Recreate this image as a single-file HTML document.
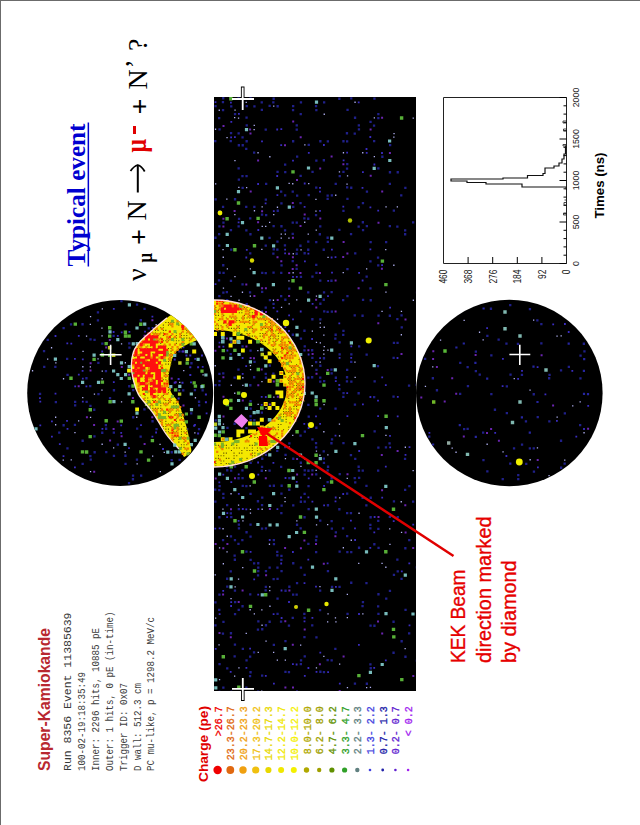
<!DOCTYPE html>
<html><head><meta charset="utf-8"><style>html,body{margin:0;padding:0;background:#fff;width:640px;height:825px;overflow:hidden}svg{display:block}</style></head><body>
<svg width="640" height="825" viewBox="0 0 640 825">
<rect x="0" y="0" width="640" height="825" fill="#fff"/>
<rect x="0" y="0" width="640" height="1" fill="#6b6b6b"/><rect x="0" y="0" width="1" height="825" fill="#6b6b6b"/>
<text transform="translate(85,266.5) rotate(-90)" font-family="Liberation Serif" font-weight="bold" font-size="25" fill="#0000d0" textLength="143" lengthAdjust="spacingAndGlyphs">Typical event</text>
<rect x="87.6" y="122.5" width="1.5" height="144" fill="#0000d0"/>
<text transform="translate(146,281) rotate(-90)" font-family="Liberation Serif" font-weight="normal" font-size="28" fill="#000" >ν</text>
<text transform="translate(151.5,262.5) rotate(-90)" font-family="Liberation Serif" font-weight="bold" font-size="22" fill="#000" textLength="9.5" lengthAdjust="spacingAndGlyphs">μ</text>
<text transform="translate(148.3,245) rotate(-90)" font-family="Liberation Serif" font-weight="bold" font-size="28" fill="#000" >+</text>
<text transform="translate(146,220.5) rotate(-90)" font-family="Liberation Serif" font-weight="normal" font-size="28" fill="#000" >N</text>
<path d="M137.8,192.5 L137.8,166" stroke="#000" stroke-width="2" fill="none"/>
<path d="M130.5,171 Q134,166 137.8,165 Q141.5,166 144.7,171.5" stroke="#000" stroke-width="1.8" fill="none"/>
<text transform="translate(145.5,152.5) rotate(-90)" font-family="Liberation Serif" font-weight="bold" font-size="30" fill="#e00000" textLength="13.5" lengthAdjust="spacingAndGlyphs">μ</text>
<rect x="133" y="126" width="3" height="8" fill="#e00000"/>
<text transform="translate(148.5,114.5) rotate(-90)" font-family="Liberation Serif" font-weight="bold" font-size="28" fill="#000" >+</text>
<text transform="translate(147,89.5) rotate(-90)" font-family="Liberation Serif" font-weight="normal" font-size="28" fill="#000" >N</text>
<text transform="translate(144.3,68.5) rotate(-90)" font-family="Liberation Serif" font-weight="normal" font-size="28" fill="#000" >’</text>
<text transform="translate(147,51) rotate(-90)" font-family="Liberation Serif" font-weight="normal" font-size="28" fill="#000" >?</text>
<text transform="translate(465,663) rotate(-90)" font-family="Liberation Sans" font-weight="normal" font-size="20" fill="#e60000" stroke="#e60000" stroke-width="0.35" textLength="93.5" lengthAdjust="spacingAndGlyphs">KEK Beam</text>
<text transform="translate(491,663) rotate(-90)" font-family="Liberation Sans" font-weight="normal" font-size="20" fill="#e60000" stroke="#e60000" stroke-width="0.35" textLength="146.5" lengthAdjust="spacingAndGlyphs">direction marked</text>
<text transform="translate(516,663) rotate(-90)" font-family="Liberation Sans" font-weight="normal" font-size="20" fill="#e60000" stroke="#e60000" stroke-width="0.35" textLength="102.5" lengthAdjust="spacingAndGlyphs">by diamond</text>
<text transform="translate(49.8,771) rotate(-90)" font-family="Liberation Sans" font-weight="bold" font-size="16.5" fill="#b82830" textLength="143" lengthAdjust="spacingAndGlyphs">Super-Kamiokande</text>
<text transform="translate(70.6,771) rotate(-90)" font-family="Liberation Mono" font-weight="normal" font-size="11" fill="#383838" textLength="158.5" lengthAdjust="spacingAndGlyphs">Run 8356 Event 11385639</text>
<text transform="translate(85.3,771) rotate(-90)" font-family="Liberation Mono" font-weight="normal" font-size="10" fill="#404040" textLength="99.0" lengthAdjust="spacingAndGlyphs">100-02-19:18:35:49</text>
<text transform="translate(99.1,771) rotate(-90)" font-family="Liberation Mono" font-weight="normal" font-size="10" fill="#404040" textLength="143.0" lengthAdjust="spacingAndGlyphs">Inner: 2296 hits, 10885 pE</text>
<text transform="translate(112.9,771) rotate(-90)" font-family="Liberation Mono" font-weight="normal" font-size="10" fill="#404040" textLength="159.5" lengthAdjust="spacingAndGlyphs">Outer: 1 hits, 0 pE (in-time)</text>
<text transform="translate(126.7,771) rotate(-90)" font-family="Liberation Mono" font-weight="normal" font-size="10" fill="#404040" textLength="88.0" lengthAdjust="spacingAndGlyphs">Trigger ID: 0x07</text>
<text transform="translate(140.5,771) rotate(-90)" font-family="Liberation Mono" font-weight="normal" font-size="10" fill="#404040" textLength="88.0" lengthAdjust="spacingAndGlyphs">D wall: 512.3 cm</text>
<text transform="translate(154.3,771) rotate(-90)" font-family="Liberation Mono" font-weight="normal" font-size="10" fill="#404040" textLength="154.0" lengthAdjust="spacingAndGlyphs">PC mu-like, p = 1298.2 MeV/c</text>
<text transform="translate(207.5,782) rotate(-90)" font-family="Liberation Sans" font-weight="bold" font-size="12" fill="#e00000" textLength="76" lengthAdjust="spacingAndGlyphs">Charge (pe)</text>
<text transform="translate(221.6,706.3) rotate(-90)" font-family="Liberation Mono" font-size="10" fill="#f00000" stroke="#f00000" stroke-width="0.3" text-anchor="end" style="white-space:pre" textLength="30.0" lengthAdjust="spacingAndGlyphs">&gt;26.7</text>
<circle cx="217.6" cy="770" r="4.2" fill="#f00000"/>
<text transform="translate(234.3,706.3) rotate(-90)" font-family="Liberation Mono" font-size="10" fill="#e06810" stroke="#e06810" stroke-width="0.3" text-anchor="end" style="white-space:pre" textLength="54.0" lengthAdjust="spacingAndGlyphs">23.3-26.7</text>
<circle cx="230.3" cy="770" r="3.9" fill="#e06810"/>
<text transform="translate(247.0,706.3) rotate(-90)" font-family="Liberation Mono" font-size="10" fill="#f0a010" stroke="#f0a010" stroke-width="0.3" text-anchor="end" style="white-space:pre" textLength="54.0" lengthAdjust="spacingAndGlyphs">20.2-23.3</text>
<circle cx="243.0" cy="770" r="3.7" fill="#f0a010"/>
<text transform="translate(259.7,706.3) rotate(-90)" font-family="Liberation Mono" font-size="10" fill="#f0c010" stroke="#f0c010" stroke-width="0.3" text-anchor="end" style="white-space:pre" textLength="54.0" lengthAdjust="spacingAndGlyphs">17.3-20.2</text>
<circle cx="255.7" cy="770" r="3.6" fill="#f0c010"/>
<text transform="translate(272.4,706.3) rotate(-90)" font-family="Liberation Mono" font-size="10" fill="#e8d800" stroke="#e8d800" stroke-width="0.3" text-anchor="end" style="white-space:pre" textLength="54.0" lengthAdjust="spacingAndGlyphs">14.7-17.3</text>
<circle cx="268.4" cy="770" r="3.1" fill="#e8d800"/>
<text transform="translate(285.1,706.3) rotate(-90)" font-family="Liberation Mono" font-size="10" fill="#f0e800" stroke="#f0e800" stroke-width="0.3" text-anchor="end" style="white-space:pre" textLength="54.0" lengthAdjust="spacingAndGlyphs">12.2-14.7</text>
<circle cx="281.1" cy="770" r="3.0" fill="#f0e800"/>
<text transform="translate(297.8,706.3) rotate(-90)" font-family="Liberation Mono" font-size="10" fill="#f4f000" stroke="#f4f000" stroke-width="0.3" text-anchor="end" style="white-space:pre" textLength="54.0" lengthAdjust="spacingAndGlyphs">10.0-12.2</text>
<circle cx="293.8" cy="770" r="3.0" fill="#f4f000"/>
<text transform="translate(310.5,706.3) rotate(-90)" font-family="Liberation Mono" font-size="10" fill="#b0a800" stroke="#b0a800" stroke-width="0.3" text-anchor="end" style="white-space:pre" textLength="54.0" lengthAdjust="spacingAndGlyphs"> 8.0-10.0</text>
<circle cx="306.5" cy="770" r="2.7" fill="#b0a800"/>
<text transform="translate(323.2,706.3) rotate(-90)" font-family="Liberation Mono" font-size="10" fill="#a0a000" stroke="#a0a000" stroke-width="0.3" text-anchor="end" style="white-space:pre" textLength="54.0" lengthAdjust="spacingAndGlyphs"> 6.2- 8.0</text>
<circle cx="319.2" cy="770" r="2.2" fill="#a0a000"/>
<text transform="translate(335.9,706.3) rotate(-90)" font-family="Liberation Mono" font-size="10" fill="#609000" stroke="#609000" stroke-width="0.3" text-anchor="end" style="white-space:pre" textLength="54.0" lengthAdjust="spacingAndGlyphs"> 4.7- 6.2</text>
<circle cx="331.9" cy="770" r="2.6" fill="#609000"/>
<text transform="translate(348.6,706.3) rotate(-90)" font-family="Liberation Mono" font-size="10" fill="#30a028" stroke="#30a028" stroke-width="0.3" text-anchor="end" style="white-space:pre" textLength="54.0" lengthAdjust="spacingAndGlyphs"> 3.3- 4.7</text>
<circle cx="344.6" cy="770" r="2.6" fill="#30a028"/>
<text transform="translate(361.3,706.3) rotate(-90)" font-family="Liberation Mono" font-size="10" fill="#608080" stroke="#608080" stroke-width="0.3" text-anchor="end" style="white-space:pre" textLength="54.0" lengthAdjust="spacingAndGlyphs"> 2.2- 3.3</text>
<circle cx="357.3" cy="770" r="2.2" fill="#608080"/>
<text transform="translate(374.0,706.3) rotate(-90)" font-family="Liberation Mono" font-size="10" fill="#4040e0" stroke="#4040e0" stroke-width="0.3" text-anchor="end" style="white-space:pre" textLength="54.0" lengthAdjust="spacingAndGlyphs"> 1.3- 2.2</text>
<circle cx="370.0" cy="770" r="1.3" fill="#4040e0"/>
<text transform="translate(386.7,706.3) rotate(-90)" font-family="Liberation Mono" font-size="10" fill="#2020a8" stroke="#2020a8" stroke-width="0.3" text-anchor="end" style="white-space:pre" textLength="54.0" lengthAdjust="spacingAndGlyphs"> 0.7- 1.3</text>
<circle cx="382.7" cy="770" r="1.4" fill="#2020a8"/>
<text transform="translate(399.4,706.3) rotate(-90)" font-family="Liberation Mono" font-size="10" fill="#6020d0" stroke="#6020d0" stroke-width="0.3" text-anchor="end" style="white-space:pre" textLength="54.0" lengthAdjust="spacingAndGlyphs"> 0.2- 0.7</text>
<circle cx="395.4" cy="770" r="1.3" fill="#6020d0"/>
<text transform="translate(412.1,706.3) rotate(-90)" font-family="Liberation Mono" font-size="10" fill="#a020f0" stroke="#a020f0" stroke-width="0.3" text-anchor="end" style="white-space:pre" textLength="30.0" lengthAdjust="spacingAndGlyphs">&lt; 0.2</text>
<circle cx="408.1" cy="770" r="1.3" fill="#a020f0"/>
<g stroke="#000" stroke-width="1" fill="none">
<path d="M443.5,263.5 L443.5,97.5 L566.5,97.5 L566.5,263.5 Z" stroke="#222"/>
<path d="M566.5,263.5 L559.5,263.5"/>
<path d="M566.5,255.2 L563.5,255.2"/>
<path d="M566.5,246.9 L563.5,246.9"/>
<path d="M566.5,238.6 L563.5,238.6"/>
<path d="M566.5,230.3 L563.5,230.3"/>
<path d="M566.5,222.0 L559.5,222.0"/>
<path d="M566.5,213.7 L563.5,213.7"/>
<path d="M566.5,205.4 L563.5,205.4"/>
<path d="M566.5,197.1 L563.5,197.1"/>
<path d="M566.5,188.8 L563.5,188.8"/>
<path d="M566.5,180.5 L559.5,180.5"/>
<path d="M566.5,172.2 L563.5,172.2"/>
<path d="M566.5,163.9 L563.5,163.9"/>
<path d="M566.5,155.6 L563.5,155.6"/>
<path d="M566.5,147.3 L563.5,147.3"/>
<path d="M566.5,139.0 L559.5,139.0"/>
<path d="M566.5,130.7 L563.5,130.7"/>
<path d="M566.5,122.4 L563.5,122.4"/>
<path d="M566.5,114.1 L563.5,114.1"/>
<path d="M566.5,105.8 L563.5,105.8"/>
<path d="M566.5,97.5 L559.5,97.5"/>
<path d="M468.1,263.5 L468.1,257"/>
<path d="M492.7,263.5 L492.7,257"/>
<path d="M517.3,263.5 L517.3,257"/>
<path d="M541.9,263.5 L541.9,257"/>
</g>
<text transform="translate(579,263.5) rotate(-90)" font-family="Liberation Sans" font-size="9.8" fill="#202020" text-anchor="middle" textLength="4.9" lengthAdjust="spacingAndGlyphs">0</text>
<text transform="translate(579,222) rotate(-90)" font-family="Liberation Sans" font-size="9.8" fill="#202020" text-anchor="middle" textLength="14.7" lengthAdjust="spacingAndGlyphs">500</text>
<text transform="translate(579,180.5) rotate(-90)" font-family="Liberation Sans" font-size="9.8" fill="#202020" text-anchor="middle" textLength="19.6" lengthAdjust="spacingAndGlyphs">1000</text>
<text transform="translate(579,139) rotate(-90)" font-family="Liberation Sans" font-size="9.8" fill="#202020" text-anchor="middle" textLength="19.6" lengthAdjust="spacingAndGlyphs">1500</text>
<text transform="translate(579,97.5) rotate(-90)" font-family="Liberation Sans" font-size="9.8" fill="#202020" text-anchor="middle" textLength="19.6" lengthAdjust="spacingAndGlyphs">2000</text>
<text transform="translate(447.3,269.5) rotate(-90)" font-family="Liberation Sans" font-size="10" fill="#202020" text-anchor="end" textLength="14.1" lengthAdjust="spacingAndGlyphs">460</text>
<text transform="translate(471.9,269.5) rotate(-90)" font-family="Liberation Sans" font-size="10" fill="#202020" text-anchor="end" textLength="14.1" lengthAdjust="spacingAndGlyphs">368</text>
<text transform="translate(496.5,269.5) rotate(-90)" font-family="Liberation Sans" font-size="10" fill="#202020" text-anchor="end" textLength="14.1" lengthAdjust="spacingAndGlyphs">276</text>
<text transform="translate(521.1,269.5) rotate(-90)" font-family="Liberation Sans" font-size="10" fill="#202020" text-anchor="end" textLength="14.1" lengthAdjust="spacingAndGlyphs">184</text>
<text transform="translate(545.7,269.5) rotate(-90)" font-family="Liberation Sans" font-size="10" fill="#202020" text-anchor="end" textLength="9.4" lengthAdjust="spacingAndGlyphs">92</text>
<text transform="translate(570.3,269.5) rotate(-90)" font-family="Liberation Sans" font-size="10" fill="#202020" text-anchor="end" textLength="4.7" lengthAdjust="spacingAndGlyphs">0</text>
<text transform="translate(603.8,218.5) rotate(-90)" font-family="Liberation Sans" font-weight="bold" font-size="13.5" fill="#000" textLength="66" lengthAdjust="spacingAndGlyphs">Times (ns)</text>
<path d="M566.5,190 L566,187 L522,187 L522,184 L486,184 L486,182.5 L467,182.5 L467,181 L451,181 L451,179 L503,179 L503,178 L527.5,178 L527.5,175.5 L543,175.5 L543,173.5 L545,173.5 L545,168 L554,168 L554,166 L559,166 L559,163 L562,163 L562,159 L564,159 L564,154 L565.5,154 L565.5,146 L566.5,146" stroke="#111" stroke-width="1.2" fill="none"/>
<path d="M566,215 h-2.5 v-2 h2.5 M566,205 h-2 v-2.5 h2 M566,200 h-1.5 M566,123 h-3 v-2 h3 M566,131 h-2.5 v-2 h2.5 M566,146 h-3 v-1.5 h3" stroke="#333" stroke-width="0.9" fill="none"/>
<defs>
<clipPath id="cR"><rect x="214" y="97" width="202" height="594"/></clipPath>
<clipPath id="cL"><circle cx="120.2" cy="393" r="93"/></clipPath>
<clipPath id="cRt"><circle cx="509.3" cy="393" r="93.3"/></clipPath>
<filter id="bl" x="-5%" y="-5%" width="110%" height="110%"><feGaussianBlur stdDeviation="0.8"/></filter>
</defs>
<rect x="214" y="97" width="202" height="594" fill="#000"/>
<circle cx="120.2" cy="393" r="93" fill="#000"/>
<circle cx="509.3" cy="393" r="93.3" fill="#000"/>
<g clip-path="url(#cR)">
<path fill="#20208a"  d="M222.1 97.1h2.3v2.3h-2.3zM237.4 97.3h2.3v2.3h-2.3zM249.4 97.2h2.3v2.3h-2.3zM272.5 97.6h2.3v2.3h-2.3zM338.2 97.6h2.3v2.3h-2.3zM350.1 97.2h2.3v2.3h-2.3zM373.3 97.4h2.3v2.3h-2.3zM221.8 101h2.3v2.3h-2.3zM260.6 101.3h2.3v2.3h-2.3zM272.2 101.2h2.3v2.3h-2.3zM299.8 101.3h2.3v2.3h-2.3zM323 101.2h2.3v2.3h-2.3zM214.4 105h2.3v2.3h-2.3zM230.1 105.3h2.3v2.3h-2.3zM245.6 105h2.3v2.3h-2.3zM253.3 105.3h2.3v2.3h-2.3zM268.5 104.8h2.3v2.3h-2.3zM276.5 105.1h2.3v2.3h-2.3zM292 104.9h2.3v2.3h-2.3zM314.9 105h2.3v2.3h-2.3zM221.9 108.9h2.3v2.3h-2.3zM260.7 108.7h2.3v2.3h-2.3zM291.9 108.9h2.3v2.3h-2.3zM315.2 109h2.3v2.3h-2.3zM346.4 108.7h2.3v2.3h-2.3zM233.9 112.9h2.3v2.3h-2.3zM299.6 112.9h2.3v2.3h-2.3zM377.2 113h2.3v2.3h-2.3zM218 116.9h2.3v2.3h-2.3zM245.4 116.5h2.3v2.3h-2.3zM353.9 116.6h2.3v2.3h-2.3zM377.2 117h2.3v2.3h-2.3zM369.4 120.8h2.3v2.3h-2.3zM245.6 124.3h2.3v2.3h-2.3zM295.6 124.3h2.3v2.3h-2.3zM357.7 124.3h2.3v2.3h-2.3zM372.9 124.5h2.3v2.3h-2.3zM218.4 128.2h2.3v2.3h-2.3zM264.6 128.5h2.3v2.3h-2.3zM295.6 128.5h2.3v2.3h-2.3zM357.8 128.2h2.3v2.3h-2.3zM229.9 132h2.3v2.3h-2.3zM237.5 132.3h2.3v2.3h-2.3zM345.8 132.1h2.3v2.3h-2.3zM353.6 132.5h2.3v2.3h-2.3zM241.4 136.2h2.3v2.3h-2.3zM214.1 140h2.3v2.3h-2.3zM229.6 140h2.3v2.3h-2.3zM245.5 140.1h2.3v2.3h-2.3zM292 140.1h2.3v2.3h-2.3zM319.2 140.1h2.3v2.3h-2.3zM326.7 140.2h2.3v2.3h-2.3zM342.3 140.1h2.3v2.3h-2.3zM346 140.2h2.3v2.3h-2.3zM373 139.9h2.3v2.3h-2.3zM237.7 144.1h2.3v2.3h-2.3zM241.6 144.1h2.3v2.3h-2.3zM307.6 143.7h2.3v2.3h-2.3zM389 143.9h2.3v2.3h-2.3zM245.1 147.7h2.3v2.3h-2.3zM253 151.5h2.3v2.3h-2.3zM296 155.5h2.3v2.3h-2.3zM381.2 155.6h2.3v2.3h-2.3zM315.2 159.4h2.3v2.3h-2.3zM322.7 159.1h2.3v2.3h-2.3zM284 163.5h2.3v2.3h-2.3zM346.1 163h2.3v2.3h-2.3zM237.5 167.2h2.3v2.3h-2.3zM345.9 167.4h2.3v2.3h-2.3zM377.2 167.2h2.3v2.3h-2.3zM276.4 170.7h2.3v2.3h-2.3zM284.1 171h2.3v2.3h-2.3zM311.4 170.8h2.3v2.3h-2.3zM342.3 170.8h2.3v2.3h-2.3zM388.8 171.1h2.3v2.3h-2.3zM396.6 171.1h2.3v2.3h-2.3zM241.3 174.9h2.3v2.3h-2.3zM245.4 174.9h2.3v2.3h-2.3zM299.5 174.8h2.3v2.3h-2.3zM338.6 174.9h2.3v2.3h-2.3zM237.7 178.5h2.3v2.3h-2.3zM265 182.8h2.3v2.3h-2.3zM334.6 182.8h2.3v2.3h-2.3zM388.7 182.8h2.3v2.3h-2.3zM241.5 186.7h2.3v2.3h-2.3zM315.1 186.5h2.3v2.3h-2.3zM346 186.3h2.3v2.3h-2.3zM350.1 186.6h2.3v2.3h-2.3zM404.2 186.8h2.3v2.3h-2.3zM280 190.5h2.3v2.3h-2.3zM291.6 190.4h2.3v2.3h-2.3zM365.8 190.4h2.3v2.3h-2.3zM284 194.3h2.3v2.3h-2.3zM296 194.4h2.3v2.3h-2.3zM307.6 194h2.3v2.3h-2.3zM326.5 194.5h2.3v2.3h-2.3zM330.7 194.2h2.3v2.3h-2.3zM400.1 194.2h2.3v2.3h-2.3zM214.5 198.2h2.3v2.3h-2.3zM233.9 198.1h2.3v2.3h-2.3zM264.7 198.4h2.3v2.3h-2.3zM326.5 197.8h2.3v2.3h-2.3zM346.3 197.8h2.3v2.3h-2.3zM280.3 202.2h2.3v2.3h-2.3zM299.4 201.9h2.3v2.3h-2.3zM361.8 202h2.3v2.3h-2.3zM221.9 205.8h2.3v2.3h-2.3zM245.1 205.8h2.3v2.3h-2.3zM253.2 205.7h2.3v2.3h-2.3zM292.1 205.8h2.3v2.3h-2.3zM357.5 206.1h2.3v2.3h-2.3zM218.5 210h2.3v2.3h-2.3zM276.6 209.6h2.3v2.3h-2.3zM342.3 209.7h2.3v2.3h-2.3zM392.7 209.5h2.3v2.3h-2.3zM260.9 213.4h2.3v2.3h-2.3zM265 213.9h2.3v2.3h-2.3zM314.9 213.9h2.3v2.3h-2.3zM237.9 217.7h2.3v2.3h-2.3zM249.1 217.3h2.3v2.3h-2.3zM303.2 217.3h2.3v2.3h-2.3zM307.1 217.6h2.3v2.3h-2.3zM416 217.6h2.3v2.3h-2.3zM222.3 221.5h2.3v2.3h-2.3zM291.6 221.4h2.3v2.3h-2.3zM295.6 221.4h2.3v2.3h-2.3zM361.7 221.1h2.3v2.3h-2.3zM412 221.3h2.3v2.3h-2.3zM218.3 225.3h2.3v2.3h-2.3zM237.5 225.3h2.3v2.3h-2.3zM272.5 225h2.3v2.3h-2.3zM280.3 225.1h2.3v2.3h-2.3zM319.1 225.3h2.3v2.3h-2.3zM357.5 225.4h2.3v2.3h-2.3zM365.7 224.9h2.3v2.3h-2.3zM388.7 225h2.3v2.3h-2.3zM396.2 225.4h2.3v2.3h-2.3zM229.8 228.9h2.3v2.3h-2.3zM245.2 229.3h2.3v2.3h-2.3zM283.9 229.2h2.3v2.3h-2.3zM338.2 228.8h2.3v2.3h-2.3zM361.9 228.9h2.3v2.3h-2.3zM404 229.2h2.3v2.3h-2.3zM218 232.9h2.3v2.3h-2.3zM249.3 233.1h2.3v2.3h-2.3zM291.6 232.7h2.3v2.3h-2.3zM318.7 233.1h2.3v2.3h-2.3zM349.9 233h2.3v2.3h-2.3zM404 233.1h2.3v2.3h-2.3zM214.3 236.6h2.3v2.3h-2.3zM268.4 236.7h2.3v2.3h-2.3zM326.5 236.6h2.3v2.3h-2.3zM276.3 240.5h2.3v2.3h-2.3zM307.1 240.5h2.3v2.3h-2.3zM315.1 240.9h2.3v2.3h-2.3zM326.7 240.7h2.3v2.3h-2.3zM369.5 240.9h2.3v2.3h-2.3zM385 240.9h2.3v2.3h-2.3zM218 244.5h2.3v2.3h-2.3zM264.6 244.4h2.3v2.3h-2.3zM283.8 244.3h2.3v2.3h-2.3zM299.3 244.6h2.3v2.3h-2.3zM230.1 248.4h2.3v2.3h-2.3zM272.6 248.3h2.3v2.3h-2.3zM276.2 248.5h2.3v2.3h-2.3zM295.9 248.5h2.3v2.3h-2.3zM307.1 248.6h2.3v2.3h-2.3zM322.6 248.6h2.3v2.3h-2.3zM249.1 252.2h2.3v2.3h-2.3zM272.2 252.5h2.3v2.3h-2.3zM295.5 252.6h2.3v2.3h-2.3zM303.5 252.1h2.3v2.3h-2.3zM354.1 252.2h2.3v2.3h-2.3zM376.9 256.5h2.3v2.3h-2.3zM291.6 260h2.3v2.3h-2.3zM369.3 260.2h2.3v2.3h-2.3zM222.1 264.1h2.3v2.3h-2.3zM280.4 264.2h2.3v2.3h-2.3zM315.1 263.7h2.3v2.3h-2.3zM377.1 264.2h2.3v2.3h-2.3zM295.5 267.7h2.3v2.3h-2.3zM346.3 268h2.3v2.3h-2.3zM218.5 271.6h2.3v2.3h-2.3zM222.4 271.8h2.3v2.3h-2.3zM261.1 271.7h2.3v2.3h-2.3zM264.6 272h2.3v2.3h-2.3zM272.4 271.5h2.3v2.3h-2.3zM280.1 271.8h2.3v2.3h-2.3zM315.3 271.8h2.3v2.3h-2.3zM299.8 275.7h2.3v2.3h-2.3zM311.3 275.4h2.3v2.3h-2.3zM365.5 275.5h2.3v2.3h-2.3zM217.9 279.2h2.3v2.3h-2.3zM229.8 279.7h2.3v2.3h-2.3zM319.1 279.4h2.3v2.3h-2.3zM330.3 279.6h2.3v2.3h-2.3zM241.4 283.3h2.3v2.3h-2.3zM288.1 287.5h2.3v2.3h-2.3zM369.3 287.2h2.3v2.3h-2.3zM222.2 291.4h2.3v2.3h-2.3zM225.7 291h2.3v2.3h-2.3zM248.9 291.2h2.3v2.3h-2.3zM261 290.8h2.3v2.3h-2.3zM307.1 291.3h2.3v2.3h-2.3zM322.9 291.2h2.3v2.3h-2.3zM330.5 290.9h2.3v2.3h-2.3zM218.2 295h2.3v2.3h-2.3zM280 295h2.3v2.3h-2.3zM346.3 294.9h2.3v2.3h-2.3zM226 298.9h2.3v2.3h-2.3zM268.8 299h2.3v2.3h-2.3zM284.2 298.6h2.3v2.3h-2.3zM322.6 298.6h2.3v2.3h-2.3zM342 299h2.3v2.3h-2.3zM361.9 298.7h2.3v2.3h-2.3zM369.6 299.1h2.3v2.3h-2.3zM245.6 302.9h2.3v2.3h-2.3zM272.4 302.7h2.3v2.3h-2.3zM319.2 302.6h2.3v2.3h-2.3zM264.6 306.4h2.3v2.3h-2.3zM323.1 310.2h2.3v2.3h-2.3zM326.5 310.7h2.3v2.3h-2.3zM330.7 310.4h2.3v2.3h-2.3zM353.6 314.2h2.3v2.3h-2.3zM361.4 314.6h2.3v2.3h-2.3zM377.4 314.4h2.3v2.3h-2.3zM388.7 314.6h2.3v2.3h-2.3zM400.4 314.2h2.3v2.3h-2.3zM311.2 318.1h2.3v2.3h-2.3zM319.2 318.3h2.3v2.3h-2.3zM396.2 318h2.3v2.3h-2.3zM400.6 326.2h2.3v2.3h-2.3zM283.9 330.1h2.3v2.3h-2.3zM303.3 329.6h2.3v2.3h-2.3zM342.3 329.8h2.3v2.3h-2.3zM291.7 333.6h2.3v2.3h-2.3zM334.5 333.6h2.3v2.3h-2.3zM342.1 333.7h2.3v2.3h-2.3zM299.8 337.4h2.3v2.3h-2.3zM334.2 337.5h2.3v2.3h-2.3zM369.2 337.7h2.3v2.3h-2.3zM416 337.6h2.3v2.3h-2.3zM230.1 341.3h2.3v2.3h-2.3zM338.5 341.2h2.3v2.3h-2.3zM392.8 341.7h2.3v2.3h-2.3zM396.4 341.8h2.3v2.3h-2.3zM241.4 345.2h2.3v2.3h-2.3zM303.6 345.2h2.3v2.3h-2.3zM358 345.2h2.3v2.3h-2.3zM249.4 349.4h2.3v2.3h-2.3zM303.3 349.2h2.3v2.3h-2.3zM311 349.1h2.3v2.3h-2.3zM229.6 353h2.3v2.3h-2.3zM338.5 353.2h2.3v2.3h-2.3zM350.2 353.3h2.3v2.3h-2.3zM365.5 353.4h2.3v2.3h-2.3zM311.2 356.8h2.3v2.3h-2.3zM322.8 357.1h2.3v2.3h-2.3zM392.5 356.8h2.3v2.3h-2.3zM253.4 360.8h2.3v2.3h-2.3zM315 361h2.3v2.3h-2.3zM350.1 360.8h2.3v2.3h-2.3zM268.7 364.5h2.3v2.3h-2.3zM319.2 364.6h2.3v2.3h-2.3zM376.8 364.9h2.3v2.3h-2.3zM237.3 368.4h2.3v2.3h-2.3zM315.3 368.8h2.3v2.3h-2.3zM330.3 368.4h2.3v2.3h-2.3zM346 368.8h2.3v2.3h-2.3zM218.3 372.7h2.3v2.3h-2.3zM222.1 372.2h2.3v2.3h-2.3zM264.6 372.7h2.3v2.3h-2.3zM272.2 372.5h2.3v2.3h-2.3zM330.5 372.2h2.3v2.3h-2.3zM233.5 376.5h2.3v2.3h-2.3zM253 376.1h2.3v2.3h-2.3zM264.8 376.6h2.3v2.3h-2.3zM272.7 376.5h2.3v2.3h-2.3zM307.2 376.5h2.3v2.3h-2.3zM311 376.1h2.3v2.3h-2.3zM319.1 376.4h2.3v2.3h-2.3zM334.7 376.6h2.3v2.3h-2.3zM345.9 376.1h2.3v2.3h-2.3zM218.4 379.9h2.3v2.3h-2.3zM319.1 380.5h2.3v2.3h-2.3zM323 380h2.3v2.3h-2.3zM345.8 380.2h2.3v2.3h-2.3zM350.2 380.4h2.3v2.3h-2.3zM373.5 380.3h2.3v2.3h-2.3zM214.3 384h2.3v2.3h-2.3zM218.2 383.9h2.3v2.3h-2.3zM249.2 384.1h2.3v2.3h-2.3zM407.9 384.4h2.3v2.3h-2.3zM415.6 383.8h2.3v2.3h-2.3zM338.2 388.1h2.3v2.3h-2.3zM342.4 391.9h2.3v2.3h-2.3zM357.5 392.1h2.3v2.3h-2.3zM342.2 395.8h2.3v2.3h-2.3zM373 395.9h2.3v2.3h-2.3zM392.4 395.5h2.3v2.3h-2.3zM249.4 399.9h2.3v2.3h-2.3zM307.2 403.7h2.3v2.3h-2.3zM353.8 403.5h2.3v2.3h-2.3zM249.5 407.5h2.3v2.3h-2.3zM319.1 407.5h2.3v2.3h-2.3zM334.4 407.5h2.3v2.3h-2.3zM260.7 411.4h2.3v2.3h-2.3zM249.4 415.1h2.3v2.3h-2.3zM307.6 415.4h2.3v2.3h-2.3zM214.6 419.3h2.3v2.3h-2.3zM249.5 418.9h2.3v2.3h-2.3zM253.2 419.1h2.3v2.3h-2.3zM233.5 422.6h2.3v2.3h-2.3zM307.4 423.1h2.3v2.3h-2.3zM226.3 426.8h2.3v2.3h-2.3zM245.3 426.9h2.3v2.3h-2.3zM315.2 426.6h2.3v2.3h-2.3zM303.7 430.5h2.3v2.3h-2.3zM373.5 430.3h2.3v2.3h-2.3zM299.4 434.5h2.3v2.3h-2.3zM311.3 438.3h2.3v2.3h-2.3zM330.9 438.3h2.3v2.3h-2.3zM288.2 442.3h2.3v2.3h-2.3zM314.9 441.9h2.3v2.3h-2.3zM330.3 442.1h2.3v2.3h-2.3zM342.3 442h2.3v2.3h-2.3zM388.4 442.3h2.3v2.3h-2.3zM284.1 445.9h2.3v2.3h-2.3zM315 446.3h2.3v2.3h-2.3zM377.2 446.4h2.3v2.3h-2.3zM384.8 446.3h2.3v2.3h-2.3zM276.1 449.8h2.3v2.3h-2.3zM322.6 450.3h2.3v2.3h-2.3zM264.8 453.7h2.3v2.3h-2.3zM284.4 453.8h2.3v2.3h-2.3zM349.8 453.9h2.3v2.3h-2.3zM261.1 457.6h2.3v2.3h-2.3zM292.1 457.6h2.3v2.3h-2.3zM322.7 457.5h2.3v2.3h-2.3zM354.1 457.7h2.3v2.3h-2.3zM403.9 457.7h2.3v2.3h-2.3zM249.5 461.8h2.3v2.3h-2.3zM299.7 461.6h2.3v2.3h-2.3zM322.8 461.7h2.3v2.3h-2.3zM225.8 465.5h2.3v2.3h-2.3zM233.9 465.4h2.3v2.3h-2.3zM260.9 465.7h2.3v2.3h-2.3zM280 465.7h2.3v2.3h-2.3zM326.9 465.6h2.3v2.3h-2.3zM357.5 465.6h2.3v2.3h-2.3zM226.1 469.1h2.3v2.3h-2.3zM230 469.5h2.3v2.3h-2.3zM241.3 469.2h2.3v2.3h-2.3zM260.6 469.6h2.3v2.3h-2.3zM268.4 469.5h2.3v2.3h-2.3zM303.6 469.2h2.3v2.3h-2.3zM307.3 469.6h2.3v2.3h-2.3zM311.3 469.3h2.3v2.3h-2.3zM326.5 469.2h2.3v2.3h-2.3zM357.8 469.4h2.3v2.3h-2.3zM361.6 469.4h2.3v2.3h-2.3zM377 469.4h2.3v2.3h-2.3zM415.9 469.3h2.3v2.3h-2.3zM303.5 473.5h2.3v2.3h-2.3zM315.1 473.2h2.3v2.3h-2.3zM338.6 473h2.3v2.3h-2.3zM237.4 477.1h2.3v2.3h-2.3zM241.4 476.9h2.3v2.3h-2.3zM288.2 476.9h2.3v2.3h-2.3zM330.5 477.1h2.3v2.3h-2.3zM353.6 476.9h2.3v2.3h-2.3zM358 476.8h2.3v2.3h-2.3zM326.5 481h2.3v2.3h-2.3zM354.1 481.2h2.3v2.3h-2.3zM218.5 484.9h2.3v2.3h-2.3zM241.6 484.8h2.3v2.3h-2.3zM245.2 485h2.3v2.3h-2.3zM268.8 484.7h2.3v2.3h-2.3zM272.7 484.6h2.3v2.3h-2.3zM280.5 484.6h2.3v2.3h-2.3zM307.4 485h2.3v2.3h-2.3zM365.3 484.7h2.3v2.3h-2.3zM408.2 485h2.3v2.3h-2.3zM214.1 488.5h2.3v2.3h-2.3zM218.1 488.9h2.3v2.3h-2.3zM288.1 488.6h2.3v2.3h-2.3zM404 488.7h2.3v2.3h-2.3zM222.2 492.8h2.3v2.3h-2.3zM249.4 492.7h2.3v2.3h-2.3zM280.3 492.5h2.3v2.3h-2.3zM303.5 492.8h2.3v2.3h-2.3zM346 492.4h2.3v2.3h-2.3zM222.2 496.7h2.3v2.3h-2.3zM261.1 496.4h2.3v2.3h-2.3zM361.5 496.6h2.3v2.3h-2.3zM369.6 496.6h2.3v2.3h-2.3zM214.2 500.5h2.3v2.3h-2.3zM256.8 500.1h2.3v2.3h-2.3zM299.7 500.6h2.3v2.3h-2.3zM303.6 500.4h2.3v2.3h-2.3zM392.8 500.3h2.3v2.3h-2.3zM412 500.4h2.3v2.3h-2.3zM226 504h2.3v2.3h-2.3zM260.9 504h2.3v2.3h-2.3zM280.5 504.5h2.3v2.3h-2.3zM292.1 504.3h2.3v2.3h-2.3zM326.8 504.1h2.3v2.3h-2.3zM365.2 504.3h2.3v2.3h-2.3zM237.7 508h2.3v2.3h-2.3zM307.5 507.9h2.3v2.3h-2.3zM338.2 508.1h2.3v2.3h-2.3zM229.7 512.2h2.3v2.3h-2.3zM280.2 511.9h2.3v2.3h-2.3zM346 511.9h2.3v2.3h-2.3zM349.8 511.9h2.3v2.3h-2.3zM218.2 516.1h2.3v2.3h-2.3zM230.1 515.9h2.3v2.3h-2.3zM303.4 516.1h2.3v2.3h-2.3zM369.5 516.1h2.3v2.3h-2.3zM388.7 515.7h2.3v2.3h-2.3zM396.6 515.9h2.3v2.3h-2.3zM319.1 519.5h2.3v2.3h-2.3zM330.5 519.9h2.3v2.3h-2.3zM377.1 519.8h2.3v2.3h-2.3zM237.7 523.5h2.3v2.3h-2.3zM249.4 523.5h2.3v2.3h-2.3zM295.9 523.6h2.3v2.3h-2.3zM369.2 523.7h2.3v2.3h-2.3zM237.8 527.2h2.3v2.3h-2.3zM260.9 527.5h2.3v2.3h-2.3zM264.8 527.2h2.3v2.3h-2.3zM299.5 527.2h2.3v2.3h-2.3zM330.7 527.4h2.3v2.3h-2.3zM341.9 527.2h2.3v2.3h-2.3zM369.2 527.2h2.3v2.3h-2.3zM377.2 527.7h2.3v2.3h-2.3zM245.4 531.1h2.3v2.3h-2.3zM334.7 531.3h2.3v2.3h-2.3zM229.8 535.2h2.3v2.3h-2.3zM249.4 535.5h2.3v2.3h-2.3zM315.4 535.4h2.3v2.3h-2.3zM346 535h2.3v2.3h-2.3zM221.9 539h2.3v2.3h-2.3zM233.8 538.9h2.3v2.3h-2.3zM241.2 539h2.3v2.3h-2.3zM272.7 538.9h2.3v2.3h-2.3zM314.9 539.1h2.3v2.3h-2.3zM408.1 538.9h2.3v2.3h-2.3zM237.3 542.8h2.3v2.3h-2.3zM272.8 543h2.3v2.3h-2.3zM307.2 542.7h2.3v2.3h-2.3zM373.2 543.1h2.3v2.3h-2.3zM357.9 546.6h2.3v2.3h-2.3zM377.4 546.8h2.3v2.3h-2.3zM404.2 547.1h2.3v2.3h-2.3zM245.3 550.5h2.3v2.3h-2.3zM276.1 550.7h2.3v2.3h-2.3zM315 550.9h2.3v2.3h-2.3zM338.5 550.5h2.3v2.3h-2.3zM346.2 551h2.3v2.3h-2.3zM350.1 550.9h2.3v2.3h-2.3zM233.5 554.4h2.3v2.3h-2.3zM276.2 554.3h2.3v2.3h-2.3zM280.3 554.8h2.3v2.3h-2.3zM233.7 558.6h2.3v2.3h-2.3zM249.5 558.7h2.3v2.3h-2.3zM280.2 558.8h2.3v2.3h-2.3zM396.2 558.4h2.3v2.3h-2.3zM253 562.3h2.3v2.3h-2.3zM257.1 562.1h2.3v2.3h-2.3zM292.1 562.1h2.3v2.3h-2.3zM257.1 566.4h2.3v2.3h-2.3zM268.5 566.5h2.3v2.3h-2.3zM276.3 566.4h2.3v2.3h-2.3zM299.8 566.4h2.3v2.3h-2.3zM415.7 566.3h2.3v2.3h-2.3zM229.6 570.3h2.3v2.3h-2.3zM257.1 570h2.3v2.3h-2.3zM264.8 570h2.3v2.3h-2.3zM280.4 570h2.3v2.3h-2.3zM326.8 570h2.3v2.3h-2.3zM396.6 570.2h2.3v2.3h-2.3zM256.9 574.2h2.3v2.3h-2.3zM303.5 573.7h2.3v2.3h-2.3zM392.8 573.7h2.3v2.3h-2.3zM226 577.6h2.3v2.3h-2.3zM272.5 578h2.3v2.3h-2.3zM276.4 577.8h2.3v2.3h-2.3zM400.4 577.8h2.3v2.3h-2.3zM295.9 582h2.3v2.3h-2.3zM350.1 581.6h2.3v2.3h-2.3zM365.3 582h2.3v2.3h-2.3zM226.1 585.5h2.3v2.3h-2.3zM264.7 585.7h2.3v2.3h-2.3zM288.2 585.6h2.3v2.3h-2.3zM330.9 585.7h2.3v2.3h-2.3zM338.4 585.8h2.3v2.3h-2.3zM233.8 589.4h2.3v2.3h-2.3zM264.5 589.2h2.3v2.3h-2.3zM284.4 589.6h2.3v2.3h-2.3zM319 589.4h2.3v2.3h-2.3zM388.8 589.7h2.3v2.3h-2.3zM218.3 593.5h2.3v2.3h-2.3zM249.1 593.2h2.3v2.3h-2.3zM292 593.4h2.3v2.3h-2.3zM295.5 593.4h2.3v2.3h-2.3zM377.3 593.1h2.3v2.3h-2.3zM276.4 597.5h2.3v2.3h-2.3zM385.1 597.4h2.3v2.3h-2.3zM214.3 601.3h2.3v2.3h-2.3zM234 600.9h2.3v2.3h-2.3zM361.8 600.9h2.3v2.3h-2.3zM241.4 605.1h2.3v2.3h-2.3zM361.4 604.9h2.3v2.3h-2.3zM377 605.2h2.3v2.3h-2.3zM218.1 608.8h2.3v2.3h-2.3zM237.6 608.7h2.3v2.3h-2.3zM318.9 608.9h2.3v2.3h-2.3zM404.4 608.7h2.3v2.3h-2.3zM233.9 613h2.3v2.3h-2.3zM276.4 612.8h2.3v2.3h-2.3zM303.2 612.7h2.3v2.3h-2.3zM346.4 612.7h2.3v2.3h-2.3zM377.3 612.7h2.3v2.3h-2.3zM291.6 616.8h2.3v2.3h-2.3zM303.4 616.8h2.3v2.3h-2.3zM222.3 620.8h2.3v2.3h-2.3zM257.2 620.2h2.3v2.3h-2.3zM268.5 620.6h2.3v2.3h-2.3zM279.9 620.4h2.3v2.3h-2.3zM392.4 620.6h2.3v2.3h-2.3zM214.3 624.3h2.3v2.3h-2.3zM264.8 624.1h2.3v2.3h-2.3zM287.8 624.4h2.3v2.3h-2.3zM311.1 624.2h2.3v2.3h-2.3zM369.4 624.4h2.3v2.3h-2.3zM373.3 624.6h2.3v2.3h-2.3zM256.8 628.4h2.3v2.3h-2.3zM261.1 628.1h2.3v2.3h-2.3zM221.8 632.4h2.3v2.3h-2.3zM229.8 632.1h2.3v2.3h-2.3zM408 632.2h2.3v2.3h-2.3zM303.3 636h2.3v2.3h-2.3zM315.3 636.2h2.3v2.3h-2.3zM284.3 639.9h2.3v2.3h-2.3zM400.5 640.1h2.3v2.3h-2.3zM233.8 643.5h2.3v2.3h-2.3zM272.7 643.8h2.3v2.3h-2.3zM241.7 647.8h2.3v2.3h-2.3zM334.2 647.7h2.3v2.3h-2.3zM252.9 651.3h2.3v2.3h-2.3zM392.4 651.6h2.3v2.3h-2.3zM233.5 655.2h2.3v2.3h-2.3zM249 655.5h2.3v2.3h-2.3zM303.6 655.3h2.3v2.3h-2.3zM404.3 655.6h2.3v2.3h-2.3zM245.4 659.2h2.3v2.3h-2.3zM299.9 659.2h2.3v2.3h-2.3zM326.5 659h2.3v2.3h-2.3zM330.5 659.3h2.3v2.3h-2.3zM415.7 659.4h2.3v2.3h-2.3zM218.4 663h2.3v2.3h-2.3zM299.7 662.9h2.3v2.3h-2.3zM369.3 663.2h2.3v2.3h-2.3zM226.1 667.2h2.3v2.3h-2.3zM369.6 667.1h2.3v2.3h-2.3zM249.4 671.1h2.3v2.3h-2.3zM284.3 670.7h2.3v2.3h-2.3zM287.8 671h2.3v2.3h-2.3zM319.2 670.6h2.3v2.3h-2.3zM322.8 671h2.3v2.3h-2.3zM248.9 675h2.3v2.3h-2.3zM261 674.5h2.3v2.3h-2.3zM353.8 682.5h2.3v2.3h-2.3zM365.7 682.6h2.3v2.3h-2.3zM222.2 686.5h2.3v2.3h-2.3zM245.2 686.5h2.3v2.3h-2.3zM257 690.4h2.3v2.3h-2.3z"/>
<path fill="#58b038"  d="M229.2 97.1h3.4v3.4h-3.4zM399.9 116.3h3.4v3.4h-3.4zM291.3 170.2h3.4v3.4h-3.4zM236.8 201.3h3.4v3.4h-3.4zM225.4 217h3.4v3.4h-3.4zM256.4 216.7h3.4v3.4h-3.4zM252.8 244.1h3.4v3.4h-3.4zM233.2 248.1h3.4v3.4h-3.4zM380.7 259.4h3.4v3.4h-3.4zM291.3 279.1h3.4v3.4h-3.4zM384.2 282.9h3.4v3.4h-3.4zM298.8 286.4h3.4v3.4h-3.4zM221.6 348.9h3.4v3.4h-3.4zM233.2 348.7h3.4v3.4h-3.4zM221.3 356.2h3.4v3.4h-3.4zM256.6 367.8h3.4v3.4h-3.4zM326 371.7h3.4v3.4h-3.4zM322.3 383.4h3.4v3.4h-3.4zM236.9 391.4h3.4v3.4h-3.4zM229.2 398.8h3.4v3.4h-3.4zM314.3 399.1h3.4v3.4h-3.4zM322.3 399.1h3.4v3.4h-3.4zM225.6 402.9h3.4v3.4h-3.4zM248.7 402.7h3.4v3.4h-3.4zM314.5 402.9h3.4v3.4h-3.4zM229.2 406.7h3.4v3.4h-3.4zM384.4 414.5h3.4v3.4h-3.4zM221.5 430.2h3.4v3.4h-3.4zM295.4 430h3.4v3.4h-3.4zM217.6 433.8h3.4v3.4h-3.4zM360.8 433.9h3.4v3.4h-3.4zM314.4 453.6h3.4v3.4h-3.4zM306.6 460.9h3.4v3.4h-3.4zM314.4 461.1h3.4v3.4h-3.4zM229.6 465.1h3.4v3.4h-3.4zM244.5 465.1h3.4v3.4h-3.4zM287.2 468.8h3.4v3.4h-3.4zM252.6 480.3h3.4v3.4h-3.4zM329.9 480.3h3.4v3.4h-3.4zM287.5 484h3.4v3.4h-3.4zM322.2 487.9h3.4v3.4h-3.4zM391.8 507.5h3.4v3.4h-3.4zM298.8 515.3h3.4v3.4h-3.4zM233.3 519h3.4v3.4h-3.4zM302.7 530.7h3.4v3.4h-3.4zM240.8 550.1h3.4v3.4h-3.4zM384.1 550h3.4v3.4h-3.4zM252.8 569.3h3.4v3.4h-3.4zM264 593.1h3.4v3.4h-3.4zM248.8 604.7h3.4v3.4h-3.4zM306.9 608.6h3.4v3.4h-3.4zM391.8 627.7h3.4v3.4h-3.4zM392.1 635.2h3.4v3.4h-3.4zM221.6 655h3.4v3.4h-3.4zM357.2 673.9h3.4v3.4h-3.4zM400.1 677.9h3.4v3.4h-3.4zM237.1 685.5h3.4v3.4h-3.4z"/>
<path fill="#b0b0f0"  d="M234.2 97.9h1.3v1.3h-1.3zM245.6 101.7h1.3v1.3h-1.3zM354.4 101.6h1.3v1.3h-1.3zM273.1 105.4h1.3v1.3h-1.3zM218.6 109.6h1.3v1.3h-1.3zM234.4 109.4h1.3v1.3h-1.3zM323.6 113.6h1.3v1.3h-1.3zM234 117h1.3v1.3h-1.3zM237.9 117.4h1.3v1.3h-1.3zM373.7 117.2h1.3v1.3h-1.3zM412.6 117.5h1.3v1.3h-1.3zM253.6 124.7h1.3v1.3h-1.3zM214.9 128.6h1.3v1.3h-1.3zM253.5 128.9h1.3v1.3h-1.3zM393.4 132.9h1.3v1.3h-1.3zM226.4 136.9h1.3v1.3h-1.3zM393.2 136.5h1.3v1.3h-1.3zM416.4 136.5h1.3v1.3h-1.3zM304.2 144.3h1.3v1.3h-1.3zM257.4 152.1h1.3v1.3h-1.3zM342.8 152.1h1.3v1.3h-1.3zM362.1 152.1h1.3v1.3h-1.3zM269.2 156.1h1.3v1.3h-1.3zM373.7 155.9h1.3v1.3h-1.3zM234.3 160h1.3v1.3h-1.3zM338.8 171.3h1.3v1.3h-1.3zM346.9 175.3h1.3v1.3h-1.3zM215 183.2h1.3v1.3h-1.3zM288.5 182.8h1.3v1.3h-1.3zM292.1 183.1h1.3v1.3h-1.3zM308.1 183h1.3v1.3h-1.3zM346.4 183.4h1.3v1.3h-1.3zM238.2 186.8h1.3v1.3h-1.3zM246 187h1.3v1.3h-1.3zM335.1 194.6h1.3v1.3h-1.3zM226.2 198.4h1.3v1.3h-1.3zM315.3 198.8h1.3v1.3h-1.3zM261.5 206.2h1.3v1.3h-1.3zM276.8 206.6h1.3v1.3h-1.3zM385.4 206.2h1.3v1.3h-1.3zM396.7 206.2h1.3v1.3h-1.3zM253.8 210.1h1.3v1.3h-1.3zM315.3 210.4h1.3v1.3h-1.3zM234.2 214h1.3v1.3h-1.3zM273.1 213.9h1.3v1.3h-1.3zM269 221.7h1.3v1.3h-1.3zM304.1 221.6h1.3v1.3h-1.3zM261.6 225.8h1.3v1.3h-1.3zM265.1 225.8h1.3v1.3h-1.3zM315.6 229.5h1.3v1.3h-1.3zM280.6 233.5h1.3v1.3h-1.3zM284.7 233.4h1.3v1.3h-1.3zM307.6 233.5h1.3v1.3h-1.3zM280.6 237.5h1.3v1.3h-1.3zM288.3 237.5h1.3v1.3h-1.3zM222.4 249h1.3v1.3h-1.3zM261.2 248.7h1.3v1.3h-1.3zM300.4 249.3h1.3v1.3h-1.3zM385.1 248.9h1.3v1.3h-1.3zM292.6 253.1h1.3v1.3h-1.3zM222.6 256.6h1.3v1.3h-1.3zM327.4 256.7h1.3v1.3h-1.3zM393.2 264.6h1.3v1.3h-1.3zM226.7 268.2h1.3v1.3h-1.3zM249.7 268.3h1.3v1.3h-1.3zM366 268.3h1.3v1.3h-1.3zM292.5 272.1h1.3v1.3h-1.3zM342.6 272h1.3v1.3h-1.3zM234.3 276h1.3v1.3h-1.3zM288.3 280.3h1.3v1.3h-1.3zM222.8 287.5h1.3v1.3h-1.3zM241.8 291.6h1.3v1.3h-1.3zM385.3 291.5h1.3v1.3h-1.3zM230.4 295.8h1.3v1.3h-1.3zM249.7 295.5h1.3v1.3h-1.3zM315.8 295.5h1.3v1.3h-1.3zM238.4 299.6h1.3v1.3h-1.3zM272.8 299.6h1.3v1.3h-1.3zM296.1 299.2h1.3v1.3h-1.3zM412.7 299.6h1.3v1.3h-1.3zM288.5 303.3h1.3v1.3h-1.3zM280.9 306.8h1.3v1.3h-1.3zM381.4 310.8h1.3v1.3h-1.3zM400.8 310.7h1.3v1.3h-1.3zM276.9 318.6h1.3v1.3h-1.3zM284.3 322.5h1.3v1.3h-1.3zM319.6 322.4h1.3v1.3h-1.3zM280.5 326.2h1.3v1.3h-1.3zM319.6 326.8h1.3v1.3h-1.3zM323.6 326.6h1.3v1.3h-1.3zM311.7 330.5h1.3v1.3h-1.3zM323.2 334.4h1.3v1.3h-1.3zM400.7 334.1h1.3v1.3h-1.3zM315.8 341.7h1.3v1.3h-1.3zM319.7 342.3h1.3v1.3h-1.3zM323.6 345.9h1.3v1.3h-1.3zM257.2 350h1.3v1.3h-1.3zM323.1 349.7h1.3v1.3h-1.3zM327.3 349.5h1.3v1.3h-1.3zM323.2 353.4h1.3v1.3h-1.3zM319.5 361.4h1.3v1.3h-1.3zM354.3 361.5h1.3v1.3h-1.3zM214.6 365.1h1.3v1.3h-1.3zM249.8 365h1.3v1.3h-1.3zM311.5 365.1h1.3v1.3h-1.3zM249.9 369h1.3v1.3h-1.3zM242.2 377.1h1.3v1.3h-1.3zM354.5 376.8h1.3v1.3h-1.3zM261.3 380.9h1.3v1.3h-1.3zM277 380.5h1.3v1.3h-1.3zM230.6 384.6h1.3v1.3h-1.3zM242.2 384.7h1.3v1.3h-1.3zM234.1 392.6h1.3v1.3h-1.3zM241.8 392.6h1.3v1.3h-1.3zM273.2 396.4h1.3v1.3h-1.3zM257.5 403.8h1.3v1.3h-1.3zM323.4 404h1.3v1.3h-1.3zM265.4 407.7h1.3v1.3h-1.3zM222.8 423.5h1.3v1.3h-1.3zM249.6 423.5h1.3v1.3h-1.3zM338.8 423.4h1.3v1.3h-1.3zM323.2 431.1h1.3v1.3h-1.3zM292.1 434.8h1.3v1.3h-1.3zM338.9 435.3h1.3v1.3h-1.3zM385.3 434.8h1.3v1.3h-1.3zM288.7 446.5h1.3v1.3h-1.3zM404.7 446.6h1.3v1.3h-1.3zM315.8 450.4h1.3v1.3h-1.3zM319.3 454.6h1.3v1.3h-1.3zM327.2 454.2h1.3v1.3h-1.3zM284.8 458h1.3v1.3h-1.3zM304.1 458.2h1.3v1.3h-1.3zM300.3 465.7h1.3v1.3h-1.3zM265.1 470h1.3v1.3h-1.3zM315.5 469.8h1.3v1.3h-1.3zM412.5 469.9h1.3v1.3h-1.3zM319.7 477.4h1.3v1.3h-1.3zM346.6 477.7h1.3v1.3h-1.3zM249.5 485.2h1.3v1.3h-1.3zM230.4 493.1h1.3v1.3h-1.3zM284.4 497h1.3v1.3h-1.3zM339.1 497.2h1.3v1.3h-1.3zM284.4 500.9h1.3v1.3h-1.3zM400.6 501.1h1.3v1.3h-1.3zM237.9 504.5h1.3v1.3h-1.3zM222.3 508.5h1.3v1.3h-1.3zM249.8 508.8h1.3v1.3h-1.3zM261.5 508.6h1.3v1.3h-1.3zM249.8 512.4h1.3v1.3h-1.3zM358.4 512.6h1.3v1.3h-1.3zM242.3 520.3h1.3v1.3h-1.3zM296.2 520.2h1.3v1.3h-1.3zM315.9 524.2h1.3v1.3h-1.3zM327 523.9h1.3v1.3h-1.3zM222.4 528.1h1.3v1.3h-1.3zM389.1 528.2h1.3v1.3h-1.3zM400.9 531.8h1.3v1.3h-1.3zM226.6 535.6h1.3v1.3h-1.3zM350.6 539.6h1.3v1.3h-1.3zM268.8 543.6h1.3v1.3h-1.3zM389.3 543.7h1.3v1.3h-1.3zM218.9 547.3h1.3v1.3h-1.3zM342.7 547.1h1.3v1.3h-1.3zM226.4 551.2h1.3v1.3h-1.3zM222.7 563.1h1.3v1.3h-1.3zM358.1 562.7h1.3v1.3h-1.3zM381.4 562.8h1.3v1.3h-1.3zM242.1 566.9h1.3v1.3h-1.3zM385.2 566.6h1.3v1.3h-1.3zM214.6 574.2h1.3v1.3h-1.3zM237.9 578.5h1.3v1.3h-1.3zM234.5 586.3h1.3v1.3h-1.3zM269.1 586.2h1.3v1.3h-1.3zM319.3 586h1.3v1.3h-1.3zM269.1 590h1.3v1.3h-1.3zM346.7 593.8h1.3v1.3h-1.3zM230.4 598h1.3v1.3h-1.3zM269.3 605.6h1.3v1.3h-1.3zM249.5 609.1h1.3v1.3h-1.3zM261.2 609.3h1.3v1.3h-1.3zM253.7 613.2h1.3v1.3h-1.3zM327.4 613.3h1.3v1.3h-1.3zM362.2 613.2h1.3v1.3h-1.3zM215 617.4h1.3v1.3h-1.3zM334.8 617.2h1.3v1.3h-1.3zM346.7 617h1.3v1.3h-1.3zM327 621.2h1.3v1.3h-1.3zM335.3 621.2h1.3v1.3h-1.3zM261.4 624.6h1.3v1.3h-1.3zM245.6 632.8h1.3v1.3h-1.3zM265.4 640.5h1.3v1.3h-1.3zM218.4 644.2h1.3v1.3h-1.3zM300 644.5h1.3v1.3h-1.3zM404.5 648h1.3v1.3h-1.3zM257.6 651.8h1.3v1.3h-1.3zM273 651.7h1.3v1.3h-1.3zM323.2 655.7h1.3v1.3h-1.3zM276.7 659.5h1.3v1.3h-1.3zM284.7 659.5h1.3v1.3h-1.3zM339 663.5h1.3v1.3h-1.3zM238.3 667.2h1.3v1.3h-1.3zM315.8 667.2h1.3v1.3h-1.3zM234 675.4h1.3v1.3h-1.3zM218.9 678.9h1.3v1.3h-1.3zM346.8 686.9h1.3v1.3h-1.3zM366 687h1.3v1.3h-1.3zM369.8 686.8h1.3v1.3h-1.3zM261.1 690.4h1.3v1.3h-1.3z"/>
<path fill="#3a2cc0"  d="M214.6 101.2h1.8v1.8h-1.8zM230 101.7h1.8v1.8h-1.8zM357.8 101.5h1.8v1.8h-1.8zM238 112.9h1.8v1.8h-1.8zM230.4 120.9h1.8v1.8h-1.8zM276.3 128.6h1.8v1.8h-1.8zM280.4 128.3h1.8v1.8h-1.8zM230.2 136.5h1.8v1.8h-1.8zM234 136.2h1.8v1.8h-1.8zM369.4 136.1h1.8v1.8h-1.8zM261.1 140.4h1.8v1.8h-1.8zM280.3 144.3h1.8v1.8h-1.8zM323 144.1h1.8v1.8h-1.8zM365.6 148.1h1.8v1.8h-1.8zM307.9 151.9h1.8v1.8h-1.8zM346.2 151.7h1.8v1.8h-1.8zM365.8 152h1.8v1.8h-1.8zM381.1 152.1h1.8v1.8h-1.8zM292.1 159.7h1.8v1.8h-1.8zM342.7 159.5h1.8v1.8h-1.8zM373.5 163.6h1.8v1.8h-1.8zM362 171.2h1.8v1.8h-1.8zM276.3 175.1h1.8v1.8h-1.8zM257.2 183.1h1.8v1.8h-1.8zM303.8 182.6h1.8v1.8h-1.8zM319.1 186.9h1.8v1.8h-1.8zM361.6 186.9h1.8v1.8h-1.8zM319.1 190.8h1.8v1.8h-1.8zM276.5 194.2h1.8v1.8h-1.8zM264.7 202.4h1.8v1.8h-1.8zM303.7 206h1.8v1.8h-1.8zM342.4 205.8h1.8v1.8h-1.8zM369.5 206.4h1.8v1.8h-1.8zM272.9 210.2h1.8v1.8h-1.8zM319.1 209.9h1.8v1.8h-1.8zM377.3 209.7h1.8v1.8h-1.8zM237.7 221.5h1.8v1.8h-1.8zM257.4 229.1h1.8v1.8h-1.8zM416.1 236.9h1.8v1.8h-1.8zM245.9 248.9h1.8v1.8h-1.8zM284.2 248.8h1.8v1.8h-1.8zM331 248.8h1.8v1.8h-1.8zM369.5 248.5h1.8v1.8h-1.8zM284.2 252.4h1.8v1.8h-1.8zM307.5 252.8h1.8v1.8h-1.8zM245.4 256.6h1.8v1.8h-1.8zM330.7 256.6h1.8v1.8h-1.8zM334.6 256.2h1.8v1.8h-1.8zM304 260.5h1.8v1.8h-1.8zM381.2 264.2h1.8v1.8h-1.8zM416.3 264.5h1.8v1.8h-1.8zM331.1 271.7h1.8v1.8h-1.8zM358.2 271.9h1.8v1.8h-1.8zM292.1 275.9h1.8v1.8h-1.8zM295.9 276h1.8v1.8h-1.8zM327.3 280h1.8v1.8h-1.8zM361.7 279.6h1.8v1.8h-1.8zM214.6 283.3h1.8v1.8h-1.8zM327.1 295.3h1.8v1.8h-1.8zM311.7 303h1.8v1.8h-1.8zM272.7 307h1.8v1.8h-1.8zM389.2 306.7h1.8v1.8h-1.8zM261.3 310.5h1.8v1.8h-1.8zM276.4 310.4h1.8v1.8h-1.8zM299.8 310.6h1.8v1.8h-1.8zM288.2 314.5h1.8v1.8h-1.8zM292.1 318.5h1.8v1.8h-1.8zM338.4 322.4h1.8v1.8h-1.8zM284.4 326.2h1.8v1.8h-1.8zM288.1 330.1h1.8v1.8h-1.8zM222.6 337.9h1.8v1.8h-1.8zM311.2 338.1h1.8v1.8h-1.8zM218.6 341.7h1.8v1.8h-1.8zM222.5 345.7h1.8v1.8h-1.8zM350.4 345.5h1.8v1.8h-1.8zM226.5 349.6h1.8v1.8h-1.8zM307.7 353.6h1.8v1.8h-1.8zM241.7 357.1h1.8v1.8h-1.8zM319.2 357.3h1.8v1.8h-1.8zM338.7 357h1.8v1.8h-1.8zM350.3 357h1.8v1.8h-1.8zM396.6 357.1h1.8v1.8h-1.8zM245.3 365.2h1.8v1.8h-1.8zM241.8 372.9h1.8v1.8h-1.8zM381.3 376.5h1.8v1.8h-1.8zM334.9 380.3h1.8v1.8h-1.8zM338.4 384.1h1.8v1.8h-1.8zM384.9 384.3h1.8v1.8h-1.8zM416.2 388.2h1.8v1.8h-1.8zM276.5 392.3h1.8v1.8h-1.8zM346.3 392.3h1.8v1.8h-1.8zM260.8 395.9h1.8v1.8h-1.8zM264.9 396.1h1.8v1.8h-1.8zM369.5 396.1h1.8v1.8h-1.8zM396.9 395.9h1.8v1.8h-1.8zM377.1 399.8h1.8v1.8h-1.8zM260.8 404h1.8v1.8h-1.8zM362 403.5h1.8v1.8h-1.8zM315.1 415.5h1.8v1.8h-1.8zM346.5 415.3h1.8v1.8h-1.8zM377.2 415.2h1.8v1.8h-1.8zM396.8 415.4h1.8v1.8h-1.8zM303.4 422.9h1.8v1.8h-1.8zM319.2 422.9h1.8v1.8h-1.8zM307.7 427.1h1.8v1.8h-1.8zM334.6 434.7h1.8v1.8h-1.8zM389.1 434.9h1.8v1.8h-1.8zM389.3 446.4h1.8v1.8h-1.8zM408.6 446.2h1.8v1.8h-1.8zM358.3 450.1h1.8v1.8h-1.8zM404.6 454h1.8v1.8h-1.8zM257.2 461.6h1.8v1.8h-1.8zM272.5 462h1.8v1.8h-1.8zM384.9 465.8h1.8v1.8h-1.8zM222.4 473.7h1.8v1.8h-1.8zM237.8 473.5h1.8v1.8h-1.8zM257.4 473.8h1.8v1.8h-1.8zM284.6 477.1h1.8v1.8h-1.8zM307.8 477.4h1.8v1.8h-1.8zM218.4 481.5h1.8v1.8h-1.8zM230.4 481.2h1.8v1.8h-1.8zM295.8 481h1.8v1.8h-1.8zM323.2 484.9h1.8v1.8h-1.8zM237.9 492.9h1.8v1.8h-1.8zM342.3 493.1h1.8v1.8h-1.8zM300.1 496.6h1.8v1.8h-1.8zM307.5 496.5h1.8v1.8h-1.8zM334.8 496.6h1.8v1.8h-1.8zM381.3 496.8h1.8v1.8h-1.8zM311.5 500.8h1.8v1.8h-1.8zM334.6 500.4h1.8v1.8h-1.8zM323.2 504.5h1.8v1.8h-1.8zM241.9 508.1h1.8v1.8h-1.8zM245.4 508.4h1.8v1.8h-1.8zM257.4 508.3h1.8v1.8h-1.8zM276.5 508.3h1.8v1.8h-1.8zM226.4 512.3h1.8v1.8h-1.8zM226.2 516.3h1.8v1.8h-1.8zM373.7 516.1h1.8v1.8h-1.8zM237.7 520h1.8v1.8h-1.8zM350 519.8h1.8v1.8h-1.8zM392.8 520.2h1.8v1.8h-1.8zM416.1 519.8h1.8v1.8h-1.8zM412.3 523.7h1.8v1.8h-1.8zM214.4 527.7h1.8v1.8h-1.8zM218.7 527.5h1.8v1.8h-1.8zM354.1 527.5h1.8v1.8h-1.8zM373.4 531.4h1.8v1.8h-1.8zM268.8 539.1h1.8v1.8h-1.8zM354.2 539.1h1.8v1.8h-1.8zM369.4 546.9h1.8v1.8h-1.8zM249.7 551h1.8v1.8h-1.8zM292 551.1h1.8v1.8h-1.8zM307.4 558.7h1.8v1.8h-1.8zM280.3 562.6h1.8v1.8h-1.8zM326.7 562.5h1.8v1.8h-1.8zM408.4 562.5h1.8v1.8h-1.8zM400.9 570.4h1.8v1.8h-1.8zM253.3 578.4h1.8v1.8h-1.8zM303.6 582.2h1.8v1.8h-1.8zM315.1 585.8h1.8v1.8h-1.8zM335 586h1.8v1.8h-1.8zM222.3 589.9h1.8v1.8h-1.8zM280.6 589.6h1.8v1.8h-1.8zM257.3 593.8h1.8v1.8h-1.8zM230.3 601.2h1.8v1.8h-1.8zM288.1 601.1h1.8v1.8h-1.8zM230.2 605.1h1.8v1.8h-1.8zM295.7 605.1h1.8v1.8h-1.8zM218.7 613.2h1.8v1.8h-1.8zM272.7 613.2h1.8v1.8h-1.8zM358.1 613.1h1.8v1.8h-1.8zM280.7 617.1h1.8v1.8h-1.8zM311.5 616.9h1.8v1.8h-1.8zM303.6 620.5h1.8v1.8h-1.8zM408.6 624.5h1.8v1.8h-1.8zM358 644h1.8v1.8h-1.8zM214.8 647.9h1.8v1.8h-1.8zM249.2 647.8h1.8v1.8h-1.8zM319.4 651.7h1.8v1.8h-1.8zM384.9 659.4h1.8v1.8h-1.8zM292 663.3h1.8v1.8h-1.8zM295.7 663.6h1.8v1.8h-1.8zM245.5 667h1.8v1.8h-1.8zM307.5 667.1h1.8v1.8h-1.8zM373.3 666.9h1.8v1.8h-1.8zM229.8 670.9h1.8v1.8h-1.8zM315.6 671h1.8v1.8h-1.8zM327.2 671.2h1.8v1.8h-1.8zM264.9 675h1.8v1.8h-1.8zM303.9 675h1.8v1.8h-1.8zM273 682.8h1.8v1.8h-1.8zM338.9 682.7h1.8v1.8h-1.8zM241.6 686.7h1.8v1.8h-1.8zM218.6 690.7h1.8v1.8h-1.8zM230.4 690.7h1.8v1.8h-1.8zM296.1 690.6h1.8v1.8h-1.8z"/>
<path fill="#78bcbc"  d="M314.9 100.5h3.2v3.2h-3.2zM244.9 128.1h3.2v3.2h-3.2zM388 139.4h3.2v3.2h-3.2zM388.2 158.9h3.2v3.2h-3.2zM306.9 166.4h3.2v3.2h-3.2zM372.6 166.8h3.2v3.2h-3.2zM275.8 186.3h3.2v3.2h-3.2zM236.9 190h3.2v3.2h-3.2zM287.7 205.6h3.2v3.2h-3.2zM240.9 221.1h3.2v3.2h-3.2zM225.6 232.7h3.2v3.2h-3.2zM260.2 236.6h3.2v3.2h-3.2zM330.2 236.5h3.2v3.2h-3.2zM225.8 243.9h3.2v3.2h-3.2zM272 244.2h3.2v3.2h-3.2zM252.5 271h3.2v3.2h-3.2zM256.6 283.2h3.2v3.2h-3.2zM271.8 283.1h3.2v3.2h-3.2zM318.5 294.7h3.2v3.2h-3.2zM307 298.6h3.2v3.2h-3.2zM295.3 325.8h3.2v3.2h-3.2zM295.5 333.4h3.2v3.2h-3.2zM229.4 337.3h3.2v3.2h-3.2zM237.2 340.9h3.2v3.2h-3.2zM349.8 341.3h3.2v3.2h-3.2zM330.1 348.5h3.2v3.2h-3.2zM237.4 352.9h3.2v3.2h-3.2zM299.1 352.9h3.2v3.2h-3.2zM229.2 356.7h3.2v3.2h-3.2zM264.3 356.5h3.2v3.2h-3.2zM248.8 360.2h3.2v3.2h-3.2zM264.2 364.2h3.2v3.2h-3.2zM372.6 364h3.2v3.2h-3.2zM333.7 368.3h3.2v3.2h-3.2zM244.7 383.6h3.2v3.2h-3.2zM302.8 391.7h3.2v3.2h-3.2zM310.6 391.4h3.2v3.2h-3.2zM314.6 395.3h3.2v3.2h-3.2zM237 398.9h3.2v3.2h-3.2zM244.8 406.8h3.2v3.2h-3.2zM252.6 411.1h3.2v3.2h-3.2zM217.7 414.7h3.2v3.2h-3.2zM217.8 418.7h3.2v3.2h-3.2zM217.8 422.3h3.2v3.2h-3.2zM214.1 426.5h3.2v3.2h-3.2zM221.4 426h3.2v3.2h-3.2zM384.7 426.1h3.2v3.2h-3.2zM218 430.4h3.2v3.2h-3.2zM353.3 442h3.2v3.2h-3.2zM276.1 445.8h3.2v3.2h-3.2zM334.3 449.8h3.2v3.2h-3.2zM268.2 453.2h3.2v3.2h-3.2zM298.9 453.4h3.2v3.2h-3.2zM318.7 457.1h3.2v3.2h-3.2zM291.1 468.9h3.2v3.2h-3.2zM218 472.5h3.2v3.2h-3.2zM225.8 476.8h3.2v3.2h-3.2zM291.7 476.6h3.2v3.2h-3.2zM295.2 484.6h3.2v3.2h-3.2zM384.2 484.7h3.2v3.2h-3.2zM233.2 488.1h3.2v3.2h-3.2zM272 492.1h3.2v3.2h-3.2zM241.1 495.9h3.2v3.2h-3.2zM268.2 503.9h3.2v3.2h-3.2zM314.7 507.6h3.2v3.2h-3.2zM221.9 511.8h3.2v3.2h-3.2zM241 515.4h3.2v3.2h-3.2zM314.9 515.6h3.2v3.2h-3.2zM256.3 522.9h3.2v3.2h-3.2zM268.4 523.4h3.2v3.2h-3.2zM275.6 523.2h3.2v3.2h-3.2zM295 530.9h3.2v3.2h-3.2zM287.6 535h3.2v3.2h-3.2zM364.9 550.2h3.2v3.2h-3.2zM310.9 565.5h3.2v3.2h-3.2zM403.7 573.5h3.2v3.2h-3.2zM229.6 577.2h3.2v3.2h-3.2zM334.2 577.2h3.2v3.2h-3.2zM229.4 585.2h3.2v3.2h-3.2zM330.4 588.7h3.2v3.2h-3.2zM260.7 593.2h3.2v3.2h-3.2zM384.4 612h3.2v3.2h-3.2zM411.4 612.4h3.2v3.2h-3.2zM283.6 647.1h3.2v3.2h-3.2zM380.6 662.9h3.2v3.2h-3.2zM368.8 670.7h3.2v3.2h-3.2zM214.1 678.3h3.2v3.2h-3.2zM214.2 686.2h3.2v3.2h-3.2z"/>
<path fill="#6a24b0"  d="M381.1 116.8h2v2h-2zM292.2 120.6h2v2h-2zM222.5 124.9h2v2h-2zM249.1 128.6h2v2h-2zM369.6 128.4h2v2h-2zM249.5 132.5h2v2h-2zM299.7 136.3h2v2h-2zM284 144.2h2v2h-2zM388.9 152h2v2h-2zM330.6 155.5h2v2h-2zM257.1 159.4h2v2h-2zM342.4 163.2h2v2h-2zM319.2 167.4h2v2h-2zM369.7 174.8h2v2h-2zM296 179.1h2v2h-2zM249.7 190.5h2v2h-2zM381.2 190.4h2v2h-2zM291.8 202h2v2h-2zM233.6 209.9h2v2h-2zM261.1 210.2h2v2h-2zM303.7 213.6h2v2h-2zM222.4 217.7h2v2h-2zM319.3 217.5h2v2h-2zM257.1 221.3h2v2h-2zM377.5 221.7h2v2h-2zM222.4 225.6h2v2h-2zM299.5 225.1h2v2h-2zM291.9 236.8h2v2h-2zM342.6 241h2v2h-2zM288.1 252.8h2v2h-2zM346.4 252.6h2v2h-2zM276.5 256.3h2v2h-2zM291.9 256.3h2v2h-2zM342.2 256.1h2v2h-2zM280.3 260.2h2v2h-2zM295.6 264.2h2v2h-2zM291.7 267.9h2v2h-2zM380.9 267.8h2v2h-2zM288.2 271.9h2v2h-2zM299.5 271.9h2v2h-2zM318.9 272h2v2h-2zM334.6 279.4h2v2h-2zM245.3 283.4h2v2h-2zM261.1 287.3h2v2h-2zM264.9 287.2h2v2h-2zM357.6 287.2h2v2h-2zM415.9 291.4h2v2h-2zM253.4 295.1h2v2h-2zM288.1 295.1h2v2h-2zM276.7 299.1h2v2h-2zM315.1 298.7h2v2h-2zM315.3 306.5h2v2h-2zM265 310.9h2v2h-2zM334.6 310.5h2v2h-2zM404.5 318.6h2v2h-2zM377.3 322.2h2v2h-2zM225.9 337.6h2v2h-2zM218.3 345.7h2v2h-2zM245.4 345.4h2v2h-2zM214.4 349.7h2v2h-2zM307.4 349.2h2v2h-2zM311.6 353h2v2h-2zM400.5 353.1h2v2h-2zM249.6 356.9h2v2h-2zM253 357.2h2v2h-2zM260.7 368.6h2v2h-2zM326.7 368.9h2v2h-2zM315.5 372.7h2v2h-2zM222.4 376.3h2v2h-2zM272.8 380.4h2v2h-2zM257.3 384.2h2v2h-2zM222.5 395.7h2v2h-2zM276.8 395.8h2v2h-2zM241.8 399.5h2v2h-2zM268.8 403.5h2v2h-2zM222.5 415.4h2v2h-2zM396.6 450h2v2h-2zM380.8 454.1h2v2h-2zM296.1 458h2v2h-2zM296.1 473.5h2v2h-2zM311.2 473.5h2v2h-2zM346.5 473.3h2v2h-2zM214.7 477.5h2v2h-2zM234 477.3h2v2h-2zM264.8 477.2h2v2h-2zM381.1 489.2h2v2h-2zM404.3 504.3h2v2h-2zM230 508.3h2v2h-2zM268.9 508.1h2v2h-2zM377.5 515.9h2v2h-2zM404.6 531.6h2v2h-2zM334.4 535.3h2v2h-2zM303.4 539.5h2v2h-2zM214.6 543h2v2h-2zM226.4 543.1h2v2h-2zM315 542.9h2v2h-2zM222.3 547.2h2v2h-2zM284.1 547.1h2v2h-2zM299.9 547.3h2v2h-2zM412.2 546.9h2v2h-2zM322.8 562.8h2v2h-2zM265.1 574.2h2v2h-2zM241.6 589.4h2v2h-2zM288.4 589.6h2v2h-2zM222.1 593.5h2v2h-2zM237.7 601.1h2v2h-2zM284.3 620.3h2v2h-2zM377 620.4h2v2h-2zM303.7 628.4h2v2h-2zM218.5 632h2v2h-2zM381.2 632.4h2v2h-2zM229.8 636.3h2v2h-2zM291.8 643.8h2v2h-2zM342.6 655.6h2v2h-2zM318.9 663.3h2v2h-2zM412.3 675.1h2v2h-2zM284.4 686.6h2v2h-2zM292 686.5h2v2h-2zM338.7 690.1h2v2h-2z"/>
<path fill="#f0f000"  d="M241 348.6h3.8v3.8h-3.8zM236.9 375.6h3.8v3.8h-3.8z"/>
<path fill="#b8c820"  d="M260.6 352.8h3.4v3.4h-3.4zM213.6 422.6h3.4v3.4h-3.4z"/>
<path fill="#f4e800" fill-rule="evenodd" d="M214,300.0 A91,83.5 0 1 1 214,467.0 A91,83.5 0 1 1 214,300.0Z M214,330 A73,56 0 1 1 214,442 A73,56 0 1 1 214,330Z"/>
<path fill="#ff2000"  d="M216.1 299.9h2.2v2.2h-2.2zM218.7 299.9h2.2v2.2h-2.2zM221.3 299.9h2.2v2.2h-2.2zM216.1 302.5h2.2v2.2h-2.2zM221.3 302.5h2.2v2.2h-2.2zM239.5 307.7h2.2v2.2h-2.2zM270.7 328.5h2.2v2.2h-2.2zM278.5 328.5h2.2v2.2h-2.2zM288.9 341.5h2.2v2.2h-2.2zM281.1 346.7h2.2v2.2h-2.2zM286.3 351.9h2.2v2.2h-2.2zM283.7 354.5h2.2v2.2h-2.2zM281.1 357.1h2.2v2.2h-2.2zM301.9 377.9h2.2v2.2h-2.2zM286.3 385.7h2.2v2.2h-2.2zM301.9 385.7h2.2v2.2h-2.2zM299.3 388.3h2.2v2.2h-2.2zM299.3 398.7h2.2v2.2h-2.2zM294.1 416.9h2.2v2.2h-2.2zM260.3 432.5h2.2v2.2h-2.2zM249.9 435.1h2.2v2.2h-2.2zM213.5 461.1h2.2v2.2h-2.2z"/>
<path fill="#605000"  d="M223.2 301.8h1.1v1.1h-1.1zM233.5 304.4h1.1v1.1h-1.1zM236.2 304.4h1.1v1.1h-1.1zM238.8 304.4h1.1v1.1h-1.1zM215.3 307h1.1v1.1h-1.1zM223.2 307h1.1v1.1h-1.1zM238.8 307h1.1v1.1h-1.1zM243.9 307h1.1v1.1h-1.1zM246.5 307h1.1v1.1h-1.1zM215.3 309.6h1.1v1.1h-1.1zM217.9 309.6h1.1v1.1h-1.1zM220.5 309.6h1.1v1.1h-1.1zM225.8 309.6h1.1v1.1h-1.1zM241.3 309.6h1.1v1.1h-1.1zM246.5 309.6h1.1v1.1h-1.1zM249.2 309.6h1.1v1.1h-1.1zM254.3 309.6h1.1v1.1h-1.1zM217.9 312.2h1.1v1.1h-1.1zM238.8 312.2h1.1v1.1h-1.1zM241.3 312.2h1.1v1.1h-1.1zM249.2 312.2h1.1v1.1h-1.1zM251.8 312.2h1.1v1.1h-1.1zM254.3 312.2h1.1v1.1h-1.1zM215.3 314.8h1.1v1.1h-1.1zM217.9 314.8h1.1v1.1h-1.1zM223.2 314.8h1.1v1.1h-1.1zM243.9 314.8h1.1v1.1h-1.1zM249.2 314.8h1.1v1.1h-1.1zM251.8 314.8h1.1v1.1h-1.1zM254.3 314.8h1.1v1.1h-1.1zM215.3 317.4h1.1v1.1h-1.1zM225.8 317.4h1.1v1.1h-1.1zM230.9 317.4h1.1v1.1h-1.1zM233.5 317.4h1.1v1.1h-1.1zM236.2 317.4h1.1v1.1h-1.1zM241.3 317.4h1.1v1.1h-1.1zM243.9 317.4h1.1v1.1h-1.1zM246.5 317.4h1.1v1.1h-1.1zM249.2 317.4h1.1v1.1h-1.1zM256.9 317.4h1.1v1.1h-1.1zM259.6 317.4h1.1v1.1h-1.1zM262.2 317.4h1.1v1.1h-1.1zM217.9 320h1.1v1.1h-1.1zM236.2 320h1.1v1.1h-1.1zM238.8 320h1.1v1.1h-1.1zM249.2 320h1.1v1.1h-1.1zM264.8 320h1.1v1.1h-1.1zM270 320h1.1v1.1h-1.1zM272.6 320h1.1v1.1h-1.1zM223.2 322.6h1.1v1.1h-1.1zM228.3 322.6h1.1v1.1h-1.1zM243.9 322.6h1.1v1.1h-1.1zM249.2 322.6h1.1v1.1h-1.1zM254.3 322.6h1.1v1.1h-1.1zM264.8 322.6h1.1v1.1h-1.1zM270 322.6h1.1v1.1h-1.1zM275.2 322.6h1.1v1.1h-1.1zM215.3 325.2h1.1v1.1h-1.1zM217.9 325.2h1.1v1.1h-1.1zM220.5 325.2h1.1v1.1h-1.1zM225.8 325.2h1.1v1.1h-1.1zM236.2 325.2h1.1v1.1h-1.1zM238.8 325.2h1.1v1.1h-1.1zM251.8 325.2h1.1v1.1h-1.1zM264.8 325.2h1.1v1.1h-1.1zM270 325.2h1.1v1.1h-1.1zM272.6 325.2h1.1v1.1h-1.1zM275.2 325.2h1.1v1.1h-1.1zM215.3 327.8h1.1v1.1h-1.1zM217.9 327.8h1.1v1.1h-1.1zM228.3 327.8h1.1v1.1h-1.1zM230.9 327.8h1.1v1.1h-1.1zM233.5 327.8h1.1v1.1h-1.1zM236.2 327.8h1.1v1.1h-1.1zM238.8 327.8h1.1v1.1h-1.1zM249.2 327.8h1.1v1.1h-1.1zM251.8 327.8h1.1v1.1h-1.1zM262.2 327.8h1.1v1.1h-1.1zM264.8 327.8h1.1v1.1h-1.1zM267.4 327.8h1.1v1.1h-1.1zM270 327.8h1.1v1.1h-1.1zM277.8 327.8h1.1v1.1h-1.1zM280.4 327.8h1.1v1.1h-1.1zM215.3 330.4h1.1v1.1h-1.1zM217.9 330.4h1.1v1.1h-1.1zM220.5 330.4h1.1v1.1h-1.1zM223.2 330.4h1.1v1.1h-1.1zM233.5 330.4h1.1v1.1h-1.1zM236.2 330.4h1.1v1.1h-1.1zM238.8 330.4h1.1v1.1h-1.1zM243.9 330.4h1.1v1.1h-1.1zM246.5 330.4h1.1v1.1h-1.1zM251.8 330.4h1.1v1.1h-1.1zM254.3 330.4h1.1v1.1h-1.1zM267.4 330.4h1.1v1.1h-1.1zM270 330.4h1.1v1.1h-1.1zM272.6 330.4h1.1v1.1h-1.1zM275.2 330.4h1.1v1.1h-1.1zM280.4 330.4h1.1v1.1h-1.1zM236.2 333h1.1v1.1h-1.1zM241.3 333h1.1v1.1h-1.1zM246.5 333h1.1v1.1h-1.1zM249.2 333h1.1v1.1h-1.1zM259.6 333h1.1v1.1h-1.1zM262.2 333h1.1v1.1h-1.1zM264.8 333h1.1v1.1h-1.1zM272.6 333h1.1v1.1h-1.1zM277.8 333h1.1v1.1h-1.1zM280.4 333h1.1v1.1h-1.1zM249.2 335.6h1.1v1.1h-1.1zM251.8 335.6h1.1v1.1h-1.1zM254.3 335.6h1.1v1.1h-1.1zM259.6 335.6h1.1v1.1h-1.1zM262.2 335.6h1.1v1.1h-1.1zM270 335.6h1.1v1.1h-1.1zM272.6 335.6h1.1v1.1h-1.1zM275.2 335.6h1.1v1.1h-1.1zM277.8 335.6h1.1v1.1h-1.1zM288.2 335.6h1.1v1.1h-1.1zM251.8 338.2h1.1v1.1h-1.1zM256.9 338.2h1.1v1.1h-1.1zM270 338.2h1.1v1.1h-1.1zM272.6 338.2h1.1v1.1h-1.1zM275.2 338.2h1.1v1.1h-1.1zM277.8 338.2h1.1v1.1h-1.1zM283 338.2h1.1v1.1h-1.1zM288.2 338.2h1.1v1.1h-1.1zM259.6 340.8h1.1v1.1h-1.1zM262.2 340.8h1.1v1.1h-1.1zM264.8 340.8h1.1v1.1h-1.1zM272.6 340.8h1.1v1.1h-1.1zM275.2 340.8h1.1v1.1h-1.1zM280.4 340.8h1.1v1.1h-1.1zM288.2 340.8h1.1v1.1h-1.1zM262.2 343.4h1.1v1.1h-1.1zM267.4 343.4h1.1v1.1h-1.1zM275.2 343.4h1.1v1.1h-1.1zM280.4 343.4h1.1v1.1h-1.1zM290.8 343.4h1.1v1.1h-1.1zM293.4 343.4h1.1v1.1h-1.1zM272.6 346h1.1v1.1h-1.1zM280.4 346h1.1v1.1h-1.1zM285.6 346h1.1v1.1h-1.1zM293.4 346h1.1v1.1h-1.1zM272.6 348.6h1.1v1.1h-1.1zM275.2 348.6h1.1v1.1h-1.1zM283 348.6h1.1v1.1h-1.1zM285.6 348.6h1.1v1.1h-1.1zM290.8 348.6h1.1v1.1h-1.1zM293.4 348.6h1.1v1.1h-1.1zM272.6 351.2h1.1v1.1h-1.1zM277.8 351.2h1.1v1.1h-1.1zM280.4 351.2h1.1v1.1h-1.1zM288.2 351.2h1.1v1.1h-1.1zM290.8 351.2h1.1v1.1h-1.1zM296 351.2h1.1v1.1h-1.1zM275.2 353.8h1.1v1.1h-1.1zM285.6 353.8h1.1v1.1h-1.1zM290.8 353.8h1.1v1.1h-1.1zM298.6 353.8h1.1v1.1h-1.1zM277.8 356.4h1.1v1.1h-1.1zM280.4 356.4h1.1v1.1h-1.1zM285.6 359h1.1v1.1h-1.1zM298.6 359h1.1v1.1h-1.1zM283 361.6h1.1v1.1h-1.1zM288.2 361.6h1.1v1.1h-1.1zM290.8 361.6h1.1v1.1h-1.1zM301.2 361.6h1.1v1.1h-1.1zM283 364.2h1.1v1.1h-1.1zM285.6 364.2h1.1v1.1h-1.1zM288.2 364.2h1.1v1.1h-1.1zM296 364.2h1.1v1.1h-1.1zM290.8 366.8h1.1v1.1h-1.1zM293.4 366.8h1.1v1.1h-1.1zM298.6 366.8h1.1v1.1h-1.1zM285.6 369.4h1.1v1.1h-1.1zM293.4 369.4h1.1v1.1h-1.1zM298.6 369.4h1.1v1.1h-1.1zM301.2 369.4h1.1v1.1h-1.1zM303.8 369.4h1.1v1.1h-1.1zM288.2 372h1.1v1.1h-1.1zM290.8 372h1.1v1.1h-1.1zM293.4 372h1.1v1.1h-1.1zM296 372h1.1v1.1h-1.1zM298.6 372h1.1v1.1h-1.1zM290.8 374.6h1.1v1.1h-1.1zM288.2 377.2h1.1v1.1h-1.1zM290.8 377.2h1.1v1.1h-1.1zM293.4 377.2h1.1v1.1h-1.1zM298.6 377.2h1.1v1.1h-1.1zM301.2 377.2h1.1v1.1h-1.1zM288.2 379.8h1.1v1.1h-1.1zM290.8 379.8h1.1v1.1h-1.1zM293.4 379.8h1.1v1.1h-1.1zM301.2 379.8h1.1v1.1h-1.1zM303.8 379.8h1.1v1.1h-1.1zM288.2 382.4h1.1v1.1h-1.1zM290.8 382.4h1.1v1.1h-1.1zM296 382.4h1.1v1.1h-1.1zM298.6 382.4h1.1v1.1h-1.1zM293.4 385h1.1v1.1h-1.1zM296 385h1.1v1.1h-1.1zM298.6 385h1.1v1.1h-1.1zM301.2 385h1.1v1.1h-1.1zM303.8 385h1.1v1.1h-1.1zM296 387.6h1.1v1.1h-1.1zM298.6 387.6h1.1v1.1h-1.1zM301.2 387.6h1.1v1.1h-1.1zM303.8 387.6h1.1v1.1h-1.1zM293.4 390.2h1.1v1.1h-1.1zM296 390.2h1.1v1.1h-1.1zM298.6 390.2h1.1v1.1h-1.1zM290.8 392.8h1.1v1.1h-1.1zM293.4 392.8h1.1v1.1h-1.1zM301.2 392.8h1.1v1.1h-1.1zM303.8 392.8h1.1v1.1h-1.1zM288.2 395.4h1.1v1.1h-1.1zM290.8 395.4h1.1v1.1h-1.1zM293.4 395.4h1.1v1.1h-1.1zM296 395.4h1.1v1.1h-1.1zM303.8 395.4h1.1v1.1h-1.1zM288.2 398h1.1v1.1h-1.1zM296 398h1.1v1.1h-1.1zM298.6 398h1.1v1.1h-1.1zM301.2 398h1.1v1.1h-1.1zM288.2 400.6h1.1v1.1h-1.1zM296 400.6h1.1v1.1h-1.1zM298.6 400.6h1.1v1.1h-1.1zM301.2 400.6h1.1v1.1h-1.1zM303.8 400.6h1.1v1.1h-1.1zM285.6 403.2h1.1v1.1h-1.1zM296 403.2h1.1v1.1h-1.1zM301.2 403.2h1.1v1.1h-1.1zM285.6 405.8h1.1v1.1h-1.1zM293.4 405.8h1.1v1.1h-1.1zM296 405.8h1.1v1.1h-1.1zM283 408.4h1.1v1.1h-1.1zM285.6 408.4h1.1v1.1h-1.1zM288.2 408.4h1.1v1.1h-1.1zM290.8 408.4h1.1v1.1h-1.1zM293.4 408.4h1.1v1.1h-1.1zM296 408.4h1.1v1.1h-1.1zM301.2 408.4h1.1v1.1h-1.1zM283 411h1.1v1.1h-1.1zM285.6 411h1.1v1.1h-1.1zM288.2 411h1.1v1.1h-1.1zM290.8 411h1.1v1.1h-1.1zM280.4 413.6h1.1v1.1h-1.1zM283 413.6h1.1v1.1h-1.1zM285.6 413.6h1.1v1.1h-1.1zM290.8 413.6h1.1v1.1h-1.1zM280.4 416.2h1.1v1.1h-1.1zM283 416.2h1.1v1.1h-1.1zM285.6 416.2h1.1v1.1h-1.1zM290.8 416.2h1.1v1.1h-1.1zM293.4 416.2h1.1v1.1h-1.1zM296 416.2h1.1v1.1h-1.1zM277.8 418.8h1.1v1.1h-1.1zM285.6 418.8h1.1v1.1h-1.1zM293.4 418.8h1.1v1.1h-1.1zM285.6 421.4h1.1v1.1h-1.1zM277.8 424h1.1v1.1h-1.1zM280.4 424h1.1v1.1h-1.1zM267.4 426.6h1.1v1.1h-1.1zM272.6 426.6h1.1v1.1h-1.1zM277.8 426.6h1.1v1.1h-1.1zM288.2 426.6h1.1v1.1h-1.1zM290.8 426.6h1.1v1.1h-1.1zM272.6 429.2h1.1v1.1h-1.1zM275.2 429.2h1.1v1.1h-1.1zM277.8 429.2h1.1v1.1h-1.1zM283 429.2h1.1v1.1h-1.1zM288.2 429.2h1.1v1.1h-1.1zM259.6 431.8h1.1v1.1h-1.1zM262.2 431.8h1.1v1.1h-1.1zM267.4 431.8h1.1v1.1h-1.1zM288.2 431.8h1.1v1.1h-1.1zM254.3 434.4h1.1v1.1h-1.1zM262.2 434.4h1.1v1.1h-1.1zM264.8 434.4h1.1v1.1h-1.1zM275.2 434.4h1.1v1.1h-1.1zM249.2 437h1.1v1.1h-1.1zM254.3 437h1.1v1.1h-1.1zM256.9 437h1.1v1.1h-1.1zM264.8 437h1.1v1.1h-1.1zM277.8 437h1.1v1.1h-1.1zM283 437h1.1v1.1h-1.1zM246.5 439.6h1.1v1.1h-1.1zM259.6 439.6h1.1v1.1h-1.1zM262.2 439.6h1.1v1.1h-1.1zM264.8 439.6h1.1v1.1h-1.1zM275.2 439.6h1.1v1.1h-1.1zM277.8 439.6h1.1v1.1h-1.1zM233.5 442.2h1.1v1.1h-1.1zM236.2 442.2h1.1v1.1h-1.1zM254.3 442.2h1.1v1.1h-1.1zM259.6 442.2h1.1v1.1h-1.1zM267.4 442.2h1.1v1.1h-1.1zM215.3 444.8h1.1v1.1h-1.1zM217.9 444.8h1.1v1.1h-1.1zM223.2 444.8h1.1v1.1h-1.1zM225.8 444.8h1.1v1.1h-1.1zM230.9 444.8h1.1v1.1h-1.1zM236.2 444.8h1.1v1.1h-1.1zM249.2 444.8h1.1v1.1h-1.1zM251.8 444.8h1.1v1.1h-1.1zM254.3 444.8h1.1v1.1h-1.1zM264.8 444.8h1.1v1.1h-1.1zM272.6 444.8h1.1v1.1h-1.1zM275.2 444.8h1.1v1.1h-1.1zM215.3 447.4h1.1v1.1h-1.1zM220.5 447.4h1.1v1.1h-1.1zM225.8 447.4h1.1v1.1h-1.1zM228.3 447.4h1.1v1.1h-1.1zM233.5 447.4h1.1v1.1h-1.1zM236.2 447.4h1.1v1.1h-1.1zM238.8 447.4h1.1v1.1h-1.1zM243.9 447.4h1.1v1.1h-1.1zM246.5 447.4h1.1v1.1h-1.1zM251.8 447.4h1.1v1.1h-1.1zM256.9 447.4h1.1v1.1h-1.1zM259.6 447.4h1.1v1.1h-1.1zM264.8 447.4h1.1v1.1h-1.1zM270 447.4h1.1v1.1h-1.1zM230.9 450h1.1v1.1h-1.1zM241.3 450h1.1v1.1h-1.1zM246.5 450h1.1v1.1h-1.1zM249.2 450h1.1v1.1h-1.1zM251.8 450h1.1v1.1h-1.1zM256.9 450h1.1v1.1h-1.1zM262.2 450h1.1v1.1h-1.1zM270 450h1.1v1.1h-1.1zM223.2 452.6h1.1v1.1h-1.1zM225.8 452.6h1.1v1.1h-1.1zM233.5 452.6h1.1v1.1h-1.1zM238.8 452.6h1.1v1.1h-1.1zM241.3 452.6h1.1v1.1h-1.1zM251.8 452.6h1.1v1.1h-1.1zM254.3 452.6h1.1v1.1h-1.1zM259.6 452.6h1.1v1.1h-1.1zM262.2 452.6h1.1v1.1h-1.1zM217.9 455.2h1.1v1.1h-1.1zM220.5 455.2h1.1v1.1h-1.1zM223.2 455.2h1.1v1.1h-1.1zM233.5 455.2h1.1v1.1h-1.1zM236.2 455.2h1.1v1.1h-1.1zM251.8 455.2h1.1v1.1h-1.1zM254.3 455.2h1.1v1.1h-1.1zM259.6 455.2h1.1v1.1h-1.1zM262.2 455.2h1.1v1.1h-1.1zM215.3 457.8h1.1v1.1h-1.1zM217.9 457.8h1.1v1.1h-1.1zM225.8 457.8h1.1v1.1h-1.1zM228.3 457.8h1.1v1.1h-1.1zM233.5 457.8h1.1v1.1h-1.1zM241.3 457.8h1.1v1.1h-1.1zM246.5 457.8h1.1v1.1h-1.1zM251.8 457.8h1.1v1.1h-1.1zM254.3 457.8h1.1v1.1h-1.1zM215.3 460.4h1.1v1.1h-1.1zM220.5 460.4h1.1v1.1h-1.1zM223.2 460.4h1.1v1.1h-1.1zM230.9 460.4h1.1v1.1h-1.1zM241.3 460.4h1.1v1.1h-1.1zM246.5 460.4h1.1v1.1h-1.1zM249.2 460.4h1.1v1.1h-1.1zM251.8 460.4h1.1v1.1h-1.1zM215.3 463h1.1v1.1h-1.1zM220.5 463h1.1v1.1h-1.1zM225.8 463h1.1v1.1h-1.1zM228.3 463h1.1v1.1h-1.1zM233.5 463h1.1v1.1h-1.1zM236.2 463h1.1v1.1h-1.1zM241.3 463h1.1v1.1h-1.1zM215.3 465.6h1.1v1.1h-1.1zM223.2 465.6h1.1v1.1h-1.1zM233.5 465.6h1.1v1.1h-1.1z"/>
<path fill="#f08000"  d="M223.9 299.9h2.2v2.2h-2.2zM226.5 299.9h2.2v2.2h-2.2zM218.7 302.5h2.2v2.2h-2.2zM229.1 302.5h2.2v2.2h-2.2zM231.7 302.5h2.2v2.2h-2.2zM213.5 305.1h2.2v2.2h-2.2zM218.7 305.1h2.2v2.2h-2.2zM221.3 305.1h2.2v2.2h-2.2zM231.7 305.1h2.2v2.2h-2.2zM236.9 305.1h2.2v2.2h-2.2zM242.1 305.1h2.2v2.2h-2.2zM247.3 305.1h2.2v2.2h-2.2zM213.5 307.7h2.2v2.2h-2.2zM218.7 307.7h2.2v2.2h-2.2zM242.1 307.7h2.2v2.2h-2.2zM244.7 307.7h2.2v2.2h-2.2zM249.9 307.7h2.2v2.2h-2.2zM252.5 307.7h2.2v2.2h-2.2zM216.1 310.3h2.2v2.2h-2.2zM244.7 310.3h2.2v2.2h-2.2zM247.3 310.3h2.2v2.2h-2.2zM257.7 310.3h2.2v2.2h-2.2zM213.5 312.9h2.2v2.2h-2.2zM221.3 312.9h2.2v2.2h-2.2zM231.7 312.9h2.2v2.2h-2.2zM244.7 312.9h2.2v2.2h-2.2zM247.3 312.9h2.2v2.2h-2.2zM262.9 312.9h2.2v2.2h-2.2zM221.3 315.5h2.2v2.2h-2.2zM229.1 315.5h2.2v2.2h-2.2zM231.7 315.5h2.2v2.2h-2.2zM234.3 315.5h2.2v2.2h-2.2zM242.1 315.5h2.2v2.2h-2.2zM247.3 315.5h2.2v2.2h-2.2zM249.9 315.5h2.2v2.2h-2.2zM255.1 315.5h2.2v2.2h-2.2zM265.5 315.5h2.2v2.2h-2.2zM218.7 318.1h2.2v2.2h-2.2zM221.3 318.1h2.2v2.2h-2.2zM226.5 318.1h2.2v2.2h-2.2zM234.3 318.1h2.2v2.2h-2.2zM242.1 318.1h2.2v2.2h-2.2zM252.5 318.1h2.2v2.2h-2.2zM257.7 318.1h2.2v2.2h-2.2zM260.3 318.1h2.2v2.2h-2.2zM262.9 318.1h2.2v2.2h-2.2zM265.5 318.1h2.2v2.2h-2.2zM268.1 318.1h2.2v2.2h-2.2zM270.7 318.1h2.2v2.2h-2.2zM213.5 320.7h2.2v2.2h-2.2zM234.3 320.7h2.2v2.2h-2.2zM239.5 320.7h2.2v2.2h-2.2zM242.1 320.7h2.2v2.2h-2.2zM244.7 320.7h2.2v2.2h-2.2zM247.3 320.7h2.2v2.2h-2.2zM252.5 320.7h2.2v2.2h-2.2zM255.1 320.7h2.2v2.2h-2.2zM268.1 320.7h2.2v2.2h-2.2zM270.7 320.7h2.2v2.2h-2.2zM273.3 320.7h2.2v2.2h-2.2zM216.1 323.3h2.2v2.2h-2.2zM226.5 323.3h2.2v2.2h-2.2zM252.5 323.3h2.2v2.2h-2.2zM265.5 323.3h2.2v2.2h-2.2zM270.7 323.3h2.2v2.2h-2.2zM273.3 323.3h2.2v2.2h-2.2zM221.3 325.9h2.2v2.2h-2.2zM226.5 325.9h2.2v2.2h-2.2zM236.9 325.9h2.2v2.2h-2.2zM247.3 325.9h2.2v2.2h-2.2zM249.9 325.9h2.2v2.2h-2.2zM260.3 325.9h2.2v2.2h-2.2zM262.9 325.9h2.2v2.2h-2.2zM265.5 325.9h2.2v2.2h-2.2zM268.1 325.9h2.2v2.2h-2.2zM270.7 325.9h2.2v2.2h-2.2zM275.9 325.9h2.2v2.2h-2.2zM278.5 325.9h2.2v2.2h-2.2zM216.1 328.5h2.2v2.2h-2.2zM221.3 328.5h2.2v2.2h-2.2zM234.3 328.5h2.2v2.2h-2.2zM252.5 328.5h2.2v2.2h-2.2zM255.1 328.5h2.2v2.2h-2.2zM260.3 328.5h2.2v2.2h-2.2zM268.1 328.5h2.2v2.2h-2.2zM275.9 328.5h2.2v2.2h-2.2zM252.5 331.1h2.2v2.2h-2.2zM265.5 331.1h2.2v2.2h-2.2zM270.7 331.1h2.2v2.2h-2.2zM278.5 331.1h2.2v2.2h-2.2zM281.1 331.1h2.2v2.2h-2.2zM283.7 331.1h2.2v2.2h-2.2zM247.3 333.7h2.2v2.2h-2.2zM262.9 333.7h2.2v2.2h-2.2zM265.5 333.7h2.2v2.2h-2.2zM270.7 333.7h2.2v2.2h-2.2zM273.3 333.7h2.2v2.2h-2.2zM286.3 333.7h2.2v2.2h-2.2zM255.1 336.3h2.2v2.2h-2.2zM262.9 336.3h2.2v2.2h-2.2zM268.1 336.3h2.2v2.2h-2.2zM273.3 336.3h2.2v2.2h-2.2zM281.1 336.3h2.2v2.2h-2.2zM283.7 336.3h2.2v2.2h-2.2zM286.3 336.3h2.2v2.2h-2.2zM260.3 338.9h2.2v2.2h-2.2zM268.1 338.9h2.2v2.2h-2.2zM275.9 338.9h2.2v2.2h-2.2zM281.1 338.9h2.2v2.2h-2.2zM268.1 341.5h2.2v2.2h-2.2zM273.3 341.5h2.2v2.2h-2.2zM281.1 341.5h2.2v2.2h-2.2zM283.7 341.5h2.2v2.2h-2.2zM270.7 344.1h2.2v2.2h-2.2zM273.3 344.1h2.2v2.2h-2.2zM278.5 344.1h2.2v2.2h-2.2zM281.1 344.1h2.2v2.2h-2.2zM283.7 344.1h2.2v2.2h-2.2zM286.3 344.1h2.2v2.2h-2.2zM291.5 344.1h2.2v2.2h-2.2zM283.7 346.7h2.2v2.2h-2.2zM286.3 346.7h2.2v2.2h-2.2zM291.5 346.7h2.2v2.2h-2.2zM273.3 349.3h2.2v2.2h-2.2zM281.1 349.3h2.2v2.2h-2.2zM286.3 349.3h2.2v2.2h-2.2zM288.9 349.3h2.2v2.2h-2.2zM291.5 349.3h2.2v2.2h-2.2zM294.1 349.3h2.2v2.2h-2.2zM273.3 351.9h2.2v2.2h-2.2zM275.9 351.9h2.2v2.2h-2.2zM281.1 351.9h2.2v2.2h-2.2zM291.5 351.9h2.2v2.2h-2.2zM286.3 354.5h2.2v2.2h-2.2zM288.9 354.5h2.2v2.2h-2.2zM291.5 354.5h2.2v2.2h-2.2zM294.1 354.5h2.2v2.2h-2.2zM283.7 357.1h2.2v2.2h-2.2zM286.3 357.1h2.2v2.2h-2.2zM288.9 357.1h2.2v2.2h-2.2zM291.5 357.1h2.2v2.2h-2.2zM299.3 357.1h2.2v2.2h-2.2zM278.5 359.7h2.2v2.2h-2.2zM288.9 359.7h2.2v2.2h-2.2zM299.3 359.7h2.2v2.2h-2.2zM281.1 362.3h2.2v2.2h-2.2zM283.7 362.3h2.2v2.2h-2.2zM299.3 362.3h2.2v2.2h-2.2zM281.1 364.9h2.2v2.2h-2.2zM288.9 364.9h2.2v2.2h-2.2zM291.5 364.9h2.2v2.2h-2.2zM294.1 364.9h2.2v2.2h-2.2zM296.7 364.9h2.2v2.2h-2.2zM283.7 367.5h2.2v2.2h-2.2zM291.5 367.5h2.2v2.2h-2.2zM294.1 367.5h2.2v2.2h-2.2zM299.3 367.5h2.2v2.2h-2.2zM301.9 367.5h2.2v2.2h-2.2zM286.3 370.1h2.2v2.2h-2.2zM288.9 370.1h2.2v2.2h-2.2zM291.5 370.1h2.2v2.2h-2.2zM294.1 370.1h2.2v2.2h-2.2zM299.3 370.1h2.2v2.2h-2.2zM291.5 372.7h2.2v2.2h-2.2zM301.9 372.7h2.2v2.2h-2.2zM288.9 375.3h2.2v2.2h-2.2zM296.7 375.3h2.2v2.2h-2.2zM301.9 375.3h2.2v2.2h-2.2zM286.3 377.9h2.2v2.2h-2.2zM288.9 377.9h2.2v2.2h-2.2zM294.1 377.9h2.2v2.2h-2.2zM296.7 377.9h2.2v2.2h-2.2zM299.3 377.9h2.2v2.2h-2.2zM288.9 380.5h2.2v2.2h-2.2zM291.5 380.5h2.2v2.2h-2.2zM294.1 380.5h2.2v2.2h-2.2zM299.3 380.5h2.2v2.2h-2.2zM288.9 383.1h2.2v2.2h-2.2zM291.5 383.1h2.2v2.2h-2.2zM296.7 383.1h2.2v2.2h-2.2zM299.3 383.1h2.2v2.2h-2.2zM301.9 383.1h2.2v2.2h-2.2zM288.9 385.7h2.2v2.2h-2.2zM291.5 385.7h2.2v2.2h-2.2zM296.7 385.7h2.2v2.2h-2.2zM299.3 385.7h2.2v2.2h-2.2zM286.3 388.3h2.2v2.2h-2.2zM288.9 388.3h2.2v2.2h-2.2zM294.1 388.3h2.2v2.2h-2.2zM296.7 388.3h2.2v2.2h-2.2zM301.9 388.3h2.2v2.2h-2.2zM286.3 390.9h2.2v2.2h-2.2zM291.5 390.9h2.2v2.2h-2.2zM294.1 390.9h2.2v2.2h-2.2zM301.9 390.9h2.2v2.2h-2.2zM286.3 393.5h2.2v2.2h-2.2zM288.9 393.5h2.2v2.2h-2.2zM291.5 393.5h2.2v2.2h-2.2zM296.7 393.5h2.2v2.2h-2.2zM286.3 396.1h2.2v2.2h-2.2zM291.5 396.1h2.2v2.2h-2.2zM299.3 396.1h2.2v2.2h-2.2zM301.9 396.1h2.2v2.2h-2.2zM301.9 398.7h2.2v2.2h-2.2zM283.7 401.3h2.2v2.2h-2.2zM288.9 401.3h2.2v2.2h-2.2zM291.5 401.3h2.2v2.2h-2.2zM294.1 401.3h2.2v2.2h-2.2zM296.7 401.3h2.2v2.2h-2.2zM283.7 403.9h2.2v2.2h-2.2zM294.1 403.9h2.2v2.2h-2.2zM296.7 403.9h2.2v2.2h-2.2zM299.3 403.9h2.2v2.2h-2.2zM283.7 406.5h2.2v2.2h-2.2zM288.9 406.5h2.2v2.2h-2.2zM288.9 409.1h2.2v2.2h-2.2zM296.7 409.1h2.2v2.2h-2.2zM283.7 411.7h2.2v2.2h-2.2zM286.3 411.7h2.2v2.2h-2.2zM288.9 411.7h2.2v2.2h-2.2zM291.5 411.7h2.2v2.2h-2.2zM296.7 411.7h2.2v2.2h-2.2zM278.5 414.3h2.2v2.2h-2.2zM286.3 414.3h2.2v2.2h-2.2zM288.9 414.3h2.2v2.2h-2.2zM294.1 414.3h2.2v2.2h-2.2zM296.7 414.3h2.2v2.2h-2.2zM275.9 416.9h2.2v2.2h-2.2zM270.7 419.5h2.2v2.2h-2.2zM273.3 419.5h2.2v2.2h-2.2zM294.1 419.5h2.2v2.2h-2.2zM288.9 422.1h2.2v2.2h-2.2zM262.9 427.3h2.2v2.2h-2.2zM270.7 427.3h2.2v2.2h-2.2zM273.3 427.3h2.2v2.2h-2.2zM268.1 429.9h2.2v2.2h-2.2zM281.1 429.9h2.2v2.2h-2.2zM252.5 432.5h2.2v2.2h-2.2zM255.1 432.5h2.2v2.2h-2.2zM268.1 432.5h2.2v2.2h-2.2zM275.9 432.5h2.2v2.2h-2.2zM281.1 432.5h2.2v2.2h-2.2zM273.3 435.1h2.2v2.2h-2.2zM281.1 435.1h2.2v2.2h-2.2zM257.7 437.7h2.2v2.2h-2.2zM273.3 437.7h2.2v2.2h-2.2zM244.7 440.3h2.2v2.2h-2.2zM247.3 440.3h2.2v2.2h-2.2zM260.3 440.3h2.2v2.2h-2.2zM268.1 440.3h2.2v2.2h-2.2zM275.9 440.3h2.2v2.2h-2.2zM262.9 442.9h2.2v2.2h-2.2zM268.1 442.9h2.2v2.2h-2.2zM218.7 445.5h2.2v2.2h-2.2zM221.3 448.1h2.2v2.2h-2.2zM260.3 448.1h2.2v2.2h-2.2zM265.5 448.1h2.2v2.2h-2.2zM216.1 450.7h2.2v2.2h-2.2zM249.9 453.3h2.2v2.2h-2.2zM218.7 458.5h2.2v2.2h-2.2z"/>
<path fill="#ff1010"  d="M223.4 304.6h3.2v3.2h-3.2zM226 304.6h3.2v3.2h-3.2zM228.6 304.6h3.2v3.2h-3.2zM233.8 304.6h3.2v3.2h-3.2zM220.8 307.2h3.2v3.2h-3.2zM226 307.2h3.2v3.2h-3.2zM228.6 307.2h3.2v3.2h-3.2zM231.2 307.2h3.2v3.2h-3.2zM233.8 307.2h3.2v3.2h-3.2zM236.4 307.2h3.2v3.2h-3.2zM220.8 309.8h3.2v3.2h-3.2zM223.4 309.8h3.2v3.2h-3.2zM226 309.8h3.2v3.2h-3.2zM228.6 309.8h3.2v3.2h-3.2zM231.2 309.8h3.2v3.2h-3.2zM233.8 309.8h3.2v3.2h-3.2zM254.6 309.8h3.2v3.2h-3.2zM254.6 312.4h3.2v3.2h-3.2zM259.8 312.4h3.2v3.2h-3.2zM252 315h3.2v3.2h-3.2zM223.4 320.2h3.2v3.2h-3.2zM228.6 320.2h3.2v3.2h-3.2zM231.2 320.2h3.2v3.2h-3.2zM228.6 322.8h3.2v3.2h-3.2z"/>
<path fill="#7cb428"  d="M239.1 304.7h3v3h-3zM213.1 309.9h3v3h-3zM262.5 315.1h3v3h-3zM259.9 322.9h3v3h-3zM244.3 328.1h3v3h-3zM288.5 346.3h3v3h-3zM285.9 361.9h3v3h-3zM296.3 372.3h3v3h-3zM278.1 416.5h3v3h-3zM280.7 419.1h3v3h-3zM267.7 426.9h3v3h-3zM233.9 439.9h3v3h-3zM236.5 439.9h3v3h-3zM270.3 439.9h3v3h-3zM272.9 439.9h3v3h-3zM213.1 442.5h3v3h-3zM220.9 442.5h3v3h-3zM231.3 442.5h3v3h-3zM254.7 442.5h3v3h-3zM220.9 445.1h3v3h-3zM257.3 452.9h3v3h-3zM239.1 458.1h3v3h-3zM231.3 460.7h3v3h-3zM228.7 463.3h3v3h-3z"/>
<path fill="#f8ec00"  d="M213 331.9h4v4h-4zM220.8 331.9h4v4h-4zM232.5 331.9h4v4h-4zM236.4 335.8h4v4h-4zM240.3 335.8h4v4h-4zM232.5 339.7h4v4h-4zM248.1 339.7h4v4h-4zM228.6 343.6h4v4h-4zM267.6 351.4h4v4h-4zM263.7 355.3h4v4h-4zM267.6 359.2h4v4h-4zM279.3 370.9h4v4h-4zM271.5 374.8h4v4h-4zM283.2 374.8h4v4h-4zM267.6 378.7h4v4h-4zM279.3 378.7h4v4h-4zM283.2 378.7h4v4h-4zM283.2 382.6h4v4h-4zM275.4 390.4h4v4h-4zM279.3 390.4h4v4h-4zM279.3 394.3h4v4h-4zM263.7 402.1h4v4h-4zM271.5 402.1h4v4h-4zM267.6 406h4v4h-4zM275.4 406h4v4h-4zM259.8 417.7h4v4h-4zM248.1 421.6h4v4h-4zM255.9 421.6h4v4h-4zM259.8 425.5h4v4h-4zM236.4 429.4h4v4h-4zM240.3 429.4h4v4h-4zM248.1 429.4h4v4h-4zM252 429.4h4v4h-4zM236.4 433.3h4v4h-4zM220.8 437.2h4v4h-4zM228.6 437.2h4v4h-4z"/>
<path fill="#5cb030"  d="M236.6 332.1h3.6v3.6h-3.6zM256.1 339.9h3.6v3.6h-3.6zM275.6 378.9h3.6v3.6h-3.6zM275.6 382.8h3.6v3.6h-3.6zM267.8 394.5h3.6v3.6h-3.6zM260 406.2h3.6v3.6h-3.6zM252.2 421.8h3.6v3.6h-3.6zM213.2 433.5h3.6v3.6h-3.6z"/>
<path fill="#6cb0b0"  d="M221 336h3.6v3.6h-3.6zM221 339.9h3.6v3.6h-3.6zM236.6 339.9h3.6v3.6h-3.6zM260 347.7h3.6v3.6h-3.6zM256.1 410.1h3.6v3.6h-3.6zM267.8 417.9h3.6v3.6h-3.6zM224.9 437.4h3.6v3.6h-3.6z"/>
<path fill="#f08400"  d="M233.5 340.7h2.2v2.2h-2.2zM280.3 371.9h2.2v2.2h-2.2zM284.2 375.8h2.2v2.2h-2.2zM268.6 379.7h2.2v2.2h-2.2zM280.3 379.7h2.2v2.2h-2.2zM284.2 383.6h2.2v2.2h-2.2zM264.7 403.1h2.2v2.2h-2.2zM260.8 426.5h2.2v2.2h-2.2zM221.8 438.2h2.2v2.2h-2.2z"/>
<ellipse cx="214" cy="383.5" rx="91" ry="83.5" fill="none" stroke="#ffdede" stroke-width="1.3"/>
</g>
<g clip-path="url(#cL)">
<path fill="#20208a"  d="M120.3 299.9h2.3v2.3h-2.3zM135.9 303.5h2.3v2.3h-2.3zM143.4 307.8h2.3v2.3h-2.3zM96.8 311.2h2.3v2.3h-2.3zM96.8 319.2h2.3v2.3h-2.3zM139.7 319.1h2.3v2.3h-2.3zM69.9 323.3h2.3v2.3h-2.3zM81.4 323.1h2.3v2.3h-2.3zM124.4 323.2h2.3v2.3h-2.3zM62.5 326.9h2.3v2.3h-2.3zM147.6 327.3h2.3v2.3h-2.3zM112.5 334.8h2.3v2.3h-2.3zM46.6 338.7h2.3v2.3h-2.3zM89.4 338.3h2.3v2.3h-2.3zM93.4 338.8h2.3v2.3h-2.3zM101.2 342.4h2.3v2.3h-2.3zM128.1 342.2h2.3v2.3h-2.3zM128.3 346.4h2.3v2.3h-2.3zM42.9 350h2.3v2.3h-2.3zM178.2 350.3h2.3v2.3h-2.3zM66 357.8h2.3v2.3h-2.3zM97.2 361.8h2.3v2.3h-2.3zM190.3 362.1h2.3v2.3h-2.3zM43.1 365.7h2.3v2.3h-2.3zM54.2 365.7h2.3v2.3h-2.3zM104.8 369.9h2.3v2.3h-2.3zM66.4 373.7h2.3v2.3h-2.3zM85.3 377.1h2.3v2.3h-2.3zM89.1 384.9h2.3v2.3h-2.3zM128.1 385.1h2.3v2.3h-2.3zM112.8 389.1h2.3v2.3h-2.3zM132.1 388.9h2.3v2.3h-2.3zM182.1 389.2h2.3v2.3h-2.3zM193.8 389h2.3v2.3h-2.3zM201.5 389.2h2.3v2.3h-2.3zM38.9 392.7h2.3v2.3h-2.3zM97.3 392.9h2.3v2.3h-2.3zM108.9 397h2.3v2.3h-2.3zM54.7 400.9h2.3v2.3h-2.3zM74 400.7h2.3v2.3h-2.3zM85.5 400.7h2.3v2.3h-2.3zM197.9 400.6h2.3v2.3h-2.3zM74 404.3h2.3v2.3h-2.3zM89.3 404.7h2.3v2.3h-2.3zM198 404.3h2.3v2.3h-2.3zM93.1 408.6h2.3v2.3h-2.3zM143.3 408.3h2.3v2.3h-2.3zM190.1 412.3h2.3v2.3h-2.3zM132.1 416.1h2.3v2.3h-2.3zM151.4 420.1h2.3v2.3h-2.3zM62.5 424.1h2.3v2.3h-2.3zM73.8 423.8h2.3v2.3h-2.3zM104.7 424h2.3v2.3h-2.3zM105 427.6h2.3v2.3h-2.3zM136 427.4h2.3v2.3h-2.3zM155.4 427.9h2.3v2.3h-2.3zM186 428h2.3v2.3h-2.3zM197.9 427.9h2.3v2.3h-2.3zM58.1 431.4h2.3v2.3h-2.3zM101.1 431.6h2.3v2.3h-2.3zM112.7 431.4h2.3v2.3h-2.3zM93.3 435.2h2.3v2.3h-2.3zM139.5 435.5h2.3v2.3h-2.3zM81.5 439.6h2.3v2.3h-2.3zM116.7 443.5h2.3v2.3h-2.3zM66.3 447.2h2.3v2.3h-2.3zM93.5 451.1h2.3v2.3h-2.3zM105.1 450.9h2.3v2.3h-2.3zM170.6 451.1h2.3v2.3h-2.3zM89.2 455h2.3v2.3h-2.3zM112.8 454.8h2.3v2.3h-2.3zM124.3 454.6h2.3v2.3h-2.3zM89.6 458.5h2.3v2.3h-2.3zM135.8 458.5h2.3v2.3h-2.3zM170.5 459h2.3v2.3h-2.3zM178.5 458.7h2.3v2.3h-2.3zM81.5 462.8h2.3v2.3h-2.3zM124.4 462.8h2.3v2.3h-2.3zM131.9 474.5h2.3v2.3h-2.3zM140 474.5h2.3v2.3h-2.3zM131.8 478.1h2.3v2.3h-2.3zM127.9 481.9h2.3v2.3h-2.3z"/>
<path fill="#78bcbc"  d="M127.8 303.2h3.2v3.2h-3.2zM143.1 322.5h3.2v3.2h-3.2zM135.4 326.4h3.2v3.2h-3.2zM108.4 330.2h3.2v3.2h-3.2zM116.2 338.1h3.2v3.2h-3.2zM131.7 342.3h3.2v3.2h-3.2zM135.6 341.9h3.2v3.2h-3.2zM92.5 353.6h3.2v3.2h-3.2zM53.8 357.6h3.2v3.2h-3.2zM119.9 361.3h3.2v3.2h-3.2zM127.6 365.1h3.2v3.2h-3.2zM112 369.4h3.2v3.2h-3.2zM116.2 373.1h3.2v3.2h-3.2zM124 373.1h3.2v3.2h-3.2zM119.7 376.9h3.2v3.2h-3.2zM81 380.8h3.2v3.2h-3.2zM96.9 380.8h3.2v3.2h-3.2zM178.2 384.8h3.2v3.2h-3.2zM127.5 392.3h3.2v3.2h-3.2zM189.7 392.4h3.2v3.2h-3.2zM112.3 400h3.2v3.2h-3.2zM189.9 408.1h3.2v3.2h-3.2zM135.4 411.5h3.2v3.2h-3.2zM34.4 427.2h3.2v3.2h-3.2zM193.6 438.7h3.2v3.2h-3.2zM123.5 442.8h3.2v3.2h-3.2zM189.8 443.1h3.2v3.2h-3.2zM166.2 450.5h3.2v3.2h-3.2zM174.2 450.3h3.2v3.2h-3.2zM177.9 450.3h3.2v3.2h-3.2zM170.4 462.3h3.2v3.2h-3.2z"/>
<path fill="#b0b0f0"  d="M101.7 308.3h1.3v1.3h-1.3zM89.9 316h1.3v1.3h-1.3zM89.7 323.7h1.3v1.3h-1.3zM155.5 323.9h1.3v1.3h-1.3zM101.3 327.4h1.3v1.3h-1.3zM85.9 335.5h1.3v1.3h-1.3zM101.4 335.2h1.3v1.3h-1.3zM120.9 343.2h1.3v1.3h-1.3zM50.9 347.1h1.3v1.3h-1.3zM82.4 350.8h1.3v1.3h-1.3zM47 358.5h1.3v1.3h-1.3zM97.4 358.2h1.3v1.3h-1.3zM55.2 362.3h1.3v1.3h-1.3zM124.7 362.1h1.3v1.3h-1.3zM82.2 366.1h1.3v1.3h-1.3zM89.7 366.3h1.3v1.3h-1.3zM31.9 370.1h1.3v1.3h-1.3zM101.6 370.4h1.3v1.3h-1.3zM183.1 370h1.3v1.3h-1.3zM202.4 374.2h1.3v1.3h-1.3zM62.9 378.1h1.3v1.3h-1.3zM101.5 378.1h1.3v1.3h-1.3zM132.3 377.9h1.3v1.3h-1.3zM179.1 381.7h1.3v1.3h-1.3zM101.3 389.5h1.3v1.3h-1.3zM93.8 393.5h1.3v1.3h-1.3zM82.1 397h1.3v1.3h-1.3zM194.8 397.1h1.3v1.3h-1.3zM120.9 401.3h1.3v1.3h-1.3zM55 416.6h1.3v1.3h-1.3zM89.9 416.7h1.3v1.3h-1.3zM136.1 416.6h1.3v1.3h-1.3zM78 420.3h1.3v1.3h-1.3zM55 424.1h1.3v1.3h-1.3zM74.3 431.9h1.3v1.3h-1.3zM194.2 432.2h1.3v1.3h-1.3zM101.5 443.6h1.3v1.3h-1.3zM159.4 443.7h1.3v1.3h-1.3zM113 447.3h1.3v1.3h-1.3zM124.5 451.5h1.3v1.3h-1.3zM163.6 451.7h1.3v1.3h-1.3zM152 455.4h1.3v1.3h-1.3zM62.6 459.5h1.3v1.3h-1.3zM70.6 459.2h1.3v1.3h-1.3zM136.5 463.2h1.3v1.3h-1.3zM89.9 470.9h1.3v1.3h-1.3zM159.7 471h1.3v1.3h-1.3z"/>
<path fill="#3a2cc0"  d="M112.9 307.9h1.8v1.8h-1.8zM151.5 315.7h1.8v1.8h-1.8zM151.7 327h1.8v1.8h-1.8zM112.7 331.1h1.8v1.8h-1.8zM120.8 331.4h1.8v1.8h-1.8zM128.5 331h1.8v1.8h-1.8zM144.1 330.8h1.8v1.8h-1.8zM54.6 335.1h1.8v1.8h-1.8zM77.9 334.9h1.8v1.8h-1.8zM116.9 334.9h1.8v1.8h-1.8zM66.4 342.5h1.8v1.8h-1.8zM70.4 342.7h1.8v1.8h-1.8zM182.6 346.4h1.8v1.8h-1.8zM101.3 350.6h1.8v1.8h-1.8zM74 358h1.8v1.8h-1.8zM81.9 358.4h1.8v1.8h-1.8zM194.3 358h1.8v1.8h-1.8zM201.8 365.9h1.8v1.8h-1.8zM81.7 369.9h1.8v1.8h-1.8zM77.9 373.8h1.8v1.8h-1.8zM81.9 377.8h1.8v1.8h-1.8zM112.9 381.3h1.8v1.8h-1.8zM190.1 381.4h1.8v1.8h-1.8zM74.3 385.5h1.8v1.8h-1.8zM85.5 385.5h1.8v1.8h-1.8zM178.4 389.4h1.8v1.8h-1.8zM54.6 392.8h1.8v1.8h-1.8zM39 397.3h1.8v1.8h-1.8zM39.4 400.7h1.8v1.8h-1.8zM81.9 400.8h1.8v1.8h-1.8zM205.7 412.5h1.8v1.8h-1.8zM51 420.5h1.8v1.8h-1.8zM66.1 419.9h1.8v1.8h-1.8zM39.4 424.4h1.8v1.8h-1.8zM120.3 424.4h1.8v1.8h-1.8zM140.1 424.2h1.8v1.8h-1.8zM194.1 424h1.8v1.8h-1.8zM66.6 428h1.8v1.8h-1.8zM101.5 427.9h1.8v1.8h-1.8zM120.3 432h1.8v1.8h-1.8zM155.2 431.6h1.8v1.8h-1.8zM51 435.8h1.8v1.8h-1.8zM151.5 435.8h1.8v1.8h-1.8zM58.9 443.3h1.8v1.8h-1.8zM128.1 447.2h1.8v1.8h-1.8zM62.6 455.2h1.8v1.8h-1.8zM74 466.5h1.8v1.8h-1.8z"/>
<path fill="#6a24b0"  d="M151.4 319.3h2v2h-2zM143.6 334.8h2v2h-2zM108.8 339h2v2h-2zM105.2 346.6h2v2h-2zM182.4 350.6h2v2h-2zM89.6 362.2h2v2h-2zM120.8 366.1h2v2h-2zM89.5 369.5h2v2h-2zM128.1 373.8h2v2h-2zM170.7 377.6h2v2h-2zM174.7 381.2h2v2h-2zM77.7 385.3h2v2h-2zM131.9 397h2v2h-2zM182.5 404.4h2v2h-2zM85.9 416.2h2v2h-2zM151.3 416.2h2v2h-2zM116.7 420.4h2v2h-2zM93.1 424h2v2h-2zM112.6 428h2v2h-2zM120.6 435.3h2v2h-2zM109.1 439.4h2v2h-2zM143.6 443.1h2v2h-2zM93.2 470.7h2v2h-2z"/>
<path fill="#58b038"  d="M73.6 322.4h3.4v3.4h-3.4zM139.1 322.6h3.4v3.4h-3.4zM108 326.1h3.4v3.4h-3.4zM123.7 330.6h3.4v3.4h-3.4zM108 334.4h3.4v3.4h-3.4zM123.8 334.3h3.4v3.4h-3.4zM127.4 334.4h3.4v3.4h-3.4zM104.5 341.9h3.4v3.4h-3.4zM189.7 342h3.4v3.4h-3.4zM100.7 353.3h3.4v3.4h-3.4zM108 353.7h3.4v3.4h-3.4zM92.4 357.7h3.4v3.4h-3.4zM185.5 361.4h3.4v3.4h-3.4zM69.3 376.5h3.4v3.4h-3.4zM127.6 376.7h3.4v3.4h-3.4zM100.7 380.4h3.4v3.4h-3.4zM131.3 384.3h3.4v3.4h-3.4zM193.7 384.4h3.4v3.4h-3.4zM201.3 384.3h3.4v3.4h-3.4zM173.9 388.2h3.4v3.4h-3.4zM108.4 400.1h3.4v3.4h-3.4zM131.1 400.1h3.4v3.4h-3.4zM88.6 408h3.4v3.4h-3.4zM197.4 415.5h3.4v3.4h-3.4zM104.5 419.1h3.4v3.4h-3.4zM119.6 419.4h3.4v3.4h-3.4zM88.5 434.9h3.4v3.4h-3.4zM150.7 438.9h3.4v3.4h-3.4zM80.8 450.2h3.4v3.4h-3.4zM84.9 450.3h3.4v3.4h-3.4zM139.3 450.2h3.4v3.4h-3.4zM146.9 458.4h3.4v3.4h-3.4z"/>
<path fill="#b8c820"  d="M107.9 346.1h3.4v3.4h-3.4zM112 353.5h3.4v3.4h-3.4zM185.8 357.7h3.4v3.4h-3.4zM178.2 361.3h3.4v3.4h-3.4zM177.9 392.4h3.4v3.4h-3.4z"/>
<path fill="#f0f000"  d="M127.1 368.8h3.8v3.8h-3.8zM135.2 407.4h3.8v3.8h-3.8z"/>
<path fill="#f4e800" d="M178,311 C176.2,312.1 171.4,314.6 167.2,317.7 C163,320.8 157.4,325.8 153,329.7 C148.6,333.6 143.8,337.3 140.5,341 C137.2,344.7 134.9,347.8 133.4,352 C131.9,356.2 131.3,361.3 131.3,366 C131.3,370.7 132.2,375.3 133.4,380 C134.6,384.7 135.2,389 138.4,394.4 C141.6,399.8 148.1,406 152.7,412.6 C157.3,419.2 161.7,427.9 166,434 C170.3,440.1 175.8,445.2 178.8,449 C181.8,452.8 183.1,455.7 184,457 L184,457 C185.2,456.2 190,454.2 191,452 C192,449.8 190.7,447.9 190,444 C189.3,440.1 188.8,435.2 187,428.5 C185.2,421.8 181.7,410.1 179,404 C176.3,397.9 172.8,396 171,392 C169.2,388 168.6,384.3 168.5,380 C168.4,375.7 169.4,370.5 170.5,366 C171.6,361.5 172.1,356.7 175,353 C177.9,349.3 183.8,346.3 188,344 C192.2,341.7 195.5,341 200,339 C204.5,337 212.5,338.5 215,332 C217.5,325.5 220,305.3 215,300 C210,294.7 190,300 185,300Z"/>
<path fill="#605000"  d="M165.3 322h1.1v1.1h-1.1zM167.9 322h1.1v1.1h-1.1zM170.5 322h1.1v1.1h-1.1zM173.2 322h1.1v1.1h-1.1zM162.8 324.6h1.1v1.1h-1.1zM167.9 324.6h1.1v1.1h-1.1zM170.5 324.6h1.1v1.1h-1.1zM178.3 324.6h1.1v1.1h-1.1zM160.2 327.2h1.1v1.1h-1.1zM162.8 327.2h1.1v1.1h-1.1zM154.9 329.8h1.1v1.1h-1.1zM157.5 329.8h1.1v1.1h-1.1zM162.8 329.8h1.1v1.1h-1.1zM165.3 329.8h1.1v1.1h-1.1zM186.2 329.8h1.1v1.1h-1.1zM152.3 332.4h1.1v1.1h-1.1zM154.9 332.4h1.1v1.1h-1.1zM160.2 332.4h1.1v1.1h-1.1zM162.8 332.4h1.1v1.1h-1.1zM175.8 332.4h1.1v1.1h-1.1zM180.9 332.4h1.1v1.1h-1.1zM186.2 332.4h1.1v1.1h-1.1zM188.8 332.4h1.1v1.1h-1.1zM152.3 335h1.1v1.1h-1.1zM157.5 335h1.1v1.1h-1.1zM162.8 335h1.1v1.1h-1.1zM170.5 335h1.1v1.1h-1.1zM175.8 335h1.1v1.1h-1.1zM180.9 335h1.1v1.1h-1.1zM183.5 335h1.1v1.1h-1.1zM186.2 335h1.1v1.1h-1.1zM160.2 337.6h1.1v1.1h-1.1zM167.9 337.6h1.1v1.1h-1.1zM173.2 337.6h1.1v1.1h-1.1zM175.8 337.6h1.1v1.1h-1.1zM180.9 337.6h1.1v1.1h-1.1zM183.5 337.6h1.1v1.1h-1.1zM186.2 337.6h1.1v1.1h-1.1zM188.8 337.6h1.1v1.1h-1.1zM191.3 337.6h1.1v1.1h-1.1zM144.5 340.2h1.1v1.1h-1.1zM157.5 340.2h1.1v1.1h-1.1zM162.8 340.2h1.1v1.1h-1.1zM165.3 340.2h1.1v1.1h-1.1zM167.9 340.2h1.1v1.1h-1.1zM173.2 340.2h1.1v1.1h-1.1zM175.8 340.2h1.1v1.1h-1.1zM178.3 340.2h1.1v1.1h-1.1zM183.5 340.2h1.1v1.1h-1.1zM188.8 340.2h1.1v1.1h-1.1zM196.5 340.2h1.1v1.1h-1.1zM141.9 342.8h1.1v1.1h-1.1zM160.2 342.8h1.1v1.1h-1.1zM175.8 342.8h1.1v1.1h-1.1zM180.9 342.8h1.1v1.1h-1.1zM183.5 342.8h1.1v1.1h-1.1zM188.8 342.8h1.1v1.1h-1.1zM147.2 345.4h1.1v1.1h-1.1zM149.8 345.4h1.1v1.1h-1.1zM160.2 345.4h1.1v1.1h-1.1zM162.8 345.4h1.1v1.1h-1.1zM165.3 345.4h1.1v1.1h-1.1zM183.5 345.4h1.1v1.1h-1.1zM136.8 348h1.1v1.1h-1.1zM139.3 348h1.1v1.1h-1.1zM144.5 348h1.1v1.1h-1.1zM147.2 348h1.1v1.1h-1.1zM149.8 348h1.1v1.1h-1.1zM157.5 348h1.1v1.1h-1.1zM167.9 348h1.1v1.1h-1.1zM170.5 348h1.1v1.1h-1.1zM178.3 348h1.1v1.1h-1.1zM180.9 348h1.1v1.1h-1.1zM170.5 350.6h1.1v1.1h-1.1zM175.8 350.6h1.1v1.1h-1.1zM152.3 353.2h1.1v1.1h-1.1zM154.9 353.2h1.1v1.1h-1.1zM167.9 353.2h1.1v1.1h-1.1zM170.5 353.2h1.1v1.1h-1.1zM175.8 353.2h1.1v1.1h-1.1zM134.2 355.8h1.1v1.1h-1.1zM139.3 355.8h1.1v1.1h-1.1zM147.2 355.8h1.1v1.1h-1.1zM170.5 355.8h1.1v1.1h-1.1zM167.9 358.4h1.1v1.1h-1.1zM170.5 358.4h1.1v1.1h-1.1zM147.2 361h1.1v1.1h-1.1zM149.8 361h1.1v1.1h-1.1zM160.2 361h1.1v1.1h-1.1zM165.3 361h1.1v1.1h-1.1zM167.9 361h1.1v1.1h-1.1zM170.5 361h1.1v1.1h-1.1zM136.8 363.6h1.1v1.1h-1.1zM165.3 363.6h1.1v1.1h-1.1zM167.9 363.6h1.1v1.1h-1.1zM170.5 363.6h1.1v1.1h-1.1zM160.2 366.2h1.1v1.1h-1.1zM134.2 368.8h1.1v1.1h-1.1zM139.3 368.8h1.1v1.1h-1.1zM149.8 368.8h1.1v1.1h-1.1zM162.8 368.8h1.1v1.1h-1.1zM165.3 368.8h1.1v1.1h-1.1zM144.5 371.4h1.1v1.1h-1.1zM149.8 371.4h1.1v1.1h-1.1zM162.8 371.4h1.1v1.1h-1.1zM165.3 371.4h1.1v1.1h-1.1zM167.9 371.4h1.1v1.1h-1.1zM134.2 374h1.1v1.1h-1.1zM152.3 374h1.1v1.1h-1.1zM165.3 374h1.1v1.1h-1.1zM167.9 374h1.1v1.1h-1.1zM139.3 376.6h1.1v1.1h-1.1zM144.5 376.6h1.1v1.1h-1.1zM165.3 376.6h1.1v1.1h-1.1zM144.5 379.2h1.1v1.1h-1.1zM152.3 379.2h1.1v1.1h-1.1zM162.8 379.2h1.1v1.1h-1.1zM165.3 379.2h1.1v1.1h-1.1zM141.9 381.8h1.1v1.1h-1.1zM149.8 381.8h1.1v1.1h-1.1zM152.3 381.8h1.1v1.1h-1.1zM139.3 384.4h1.1v1.1h-1.1zM147.2 384.4h1.1v1.1h-1.1zM149.8 384.4h1.1v1.1h-1.1zM157.5 384.4h1.1v1.1h-1.1zM141.9 387h1.1v1.1h-1.1zM149.8 387h1.1v1.1h-1.1zM167.9 387h1.1v1.1h-1.1zM141.9 389.6h1.1v1.1h-1.1zM149.8 389.6h1.1v1.1h-1.1zM154.9 389.6h1.1v1.1h-1.1zM157.5 389.6h1.1v1.1h-1.1zM167.9 389.6h1.1v1.1h-1.1zM147.2 392.2h1.1v1.1h-1.1zM157.5 392.2h1.1v1.1h-1.1zM162.8 392.2h1.1v1.1h-1.1zM167.9 392.2h1.1v1.1h-1.1zM139.3 394.8h1.1v1.1h-1.1zM144.5 394.8h1.1v1.1h-1.1zM157.5 394.8h1.1v1.1h-1.1zM162.8 394.8h1.1v1.1h-1.1zM144.5 397.4h1.1v1.1h-1.1zM147.2 397.4h1.1v1.1h-1.1zM152.3 397.4h1.1v1.1h-1.1zM157.5 397.4h1.1v1.1h-1.1zM160.2 397.4h1.1v1.1h-1.1zM162.8 397.4h1.1v1.1h-1.1zM170.5 397.4h1.1v1.1h-1.1zM144.5 400h1.1v1.1h-1.1zM147.2 400h1.1v1.1h-1.1zM152.3 400h1.1v1.1h-1.1zM154.9 400h1.1v1.1h-1.1zM165.3 400h1.1v1.1h-1.1zM167.9 400h1.1v1.1h-1.1zM170.5 400h1.1v1.1h-1.1zM175.8 400h1.1v1.1h-1.1zM147.2 402.6h1.1v1.1h-1.1zM149.8 402.6h1.1v1.1h-1.1zM160.2 402.6h1.1v1.1h-1.1zM162.8 402.6h1.1v1.1h-1.1zM165.3 402.6h1.1v1.1h-1.1zM167.9 402.6h1.1v1.1h-1.1zM173.2 402.6h1.1v1.1h-1.1zM175.8 402.6h1.1v1.1h-1.1zM149.8 405.2h1.1v1.1h-1.1zM152.3 405.2h1.1v1.1h-1.1zM160.2 405.2h1.1v1.1h-1.1zM165.3 405.2h1.1v1.1h-1.1zM173.2 405.2h1.1v1.1h-1.1zM175.8 405.2h1.1v1.1h-1.1zM149.8 407.8h1.1v1.1h-1.1zM152.3 407.8h1.1v1.1h-1.1zM154.9 407.8h1.1v1.1h-1.1zM157.5 407.8h1.1v1.1h-1.1zM160.2 407.8h1.1v1.1h-1.1zM170.5 407.8h1.1v1.1h-1.1zM173.2 407.8h1.1v1.1h-1.1zM175.8 407.8h1.1v1.1h-1.1zM152.3 410.4h1.1v1.1h-1.1zM154.9 410.4h1.1v1.1h-1.1zM160.2 410.4h1.1v1.1h-1.1zM162.8 410.4h1.1v1.1h-1.1zM167.9 410.4h1.1v1.1h-1.1zM170.5 410.4h1.1v1.1h-1.1zM175.8 410.4h1.1v1.1h-1.1zM178.3 410.4h1.1v1.1h-1.1zM180.9 410.4h1.1v1.1h-1.1zM157.5 413h1.1v1.1h-1.1zM162.8 413h1.1v1.1h-1.1zM165.3 413h1.1v1.1h-1.1zM167.9 413h1.1v1.1h-1.1zM175.8 413h1.1v1.1h-1.1zM178.3 413h1.1v1.1h-1.1zM180.9 413h1.1v1.1h-1.1zM154.9 415.6h1.1v1.1h-1.1zM160.2 415.6h1.1v1.1h-1.1zM167.9 415.6h1.1v1.1h-1.1zM170.5 415.6h1.1v1.1h-1.1zM178.3 415.6h1.1v1.1h-1.1zM180.9 415.6h1.1v1.1h-1.1zM183.5 415.6h1.1v1.1h-1.1zM160.2 418.2h1.1v1.1h-1.1zM162.8 418.2h1.1v1.1h-1.1zM165.3 418.2h1.1v1.1h-1.1zM170.5 418.2h1.1v1.1h-1.1zM175.8 418.2h1.1v1.1h-1.1zM180.9 418.2h1.1v1.1h-1.1zM160.2 420.8h1.1v1.1h-1.1zM165.3 420.8h1.1v1.1h-1.1zM175.8 420.8h1.1v1.1h-1.1zM183.5 420.8h1.1v1.1h-1.1zM165.3 423.4h1.1v1.1h-1.1zM167.9 423.4h1.1v1.1h-1.1zM170.5 423.4h1.1v1.1h-1.1zM175.8 423.4h1.1v1.1h-1.1zM180.9 423.4h1.1v1.1h-1.1zM162.8 426h1.1v1.1h-1.1zM165.3 426h1.1v1.1h-1.1zM170.5 426h1.1v1.1h-1.1zM175.8 426h1.1v1.1h-1.1zM178.3 426h1.1v1.1h-1.1zM183.5 426h1.1v1.1h-1.1zM162.8 428.6h1.1v1.1h-1.1zM165.3 428.6h1.1v1.1h-1.1zM167.9 428.6h1.1v1.1h-1.1zM173.2 428.6h1.1v1.1h-1.1zM178.3 428.6h1.1v1.1h-1.1zM180.9 428.6h1.1v1.1h-1.1zM186.2 428.6h1.1v1.1h-1.1zM165.3 431.2h1.1v1.1h-1.1zM167.9 431.2h1.1v1.1h-1.1zM173.2 431.2h1.1v1.1h-1.1zM175.8 431.2h1.1v1.1h-1.1zM180.9 431.2h1.1v1.1h-1.1zM183.5 431.2h1.1v1.1h-1.1zM186.2 431.2h1.1v1.1h-1.1zM180.9 433.8h1.1v1.1h-1.1zM186.2 433.8h1.1v1.1h-1.1zM173.2 436.4h1.1v1.1h-1.1zM175.8 436.4h1.1v1.1h-1.1zM178.3 436.4h1.1v1.1h-1.1zM180.9 436.4h1.1v1.1h-1.1zM183.5 436.4h1.1v1.1h-1.1zM170.5 439h1.1v1.1h-1.1zM173.2 439h1.1v1.1h-1.1zM178.3 439h1.1v1.1h-1.1zM183.5 439h1.1v1.1h-1.1zM178.3 441.6h1.1v1.1h-1.1zM183.5 441.6h1.1v1.1h-1.1zM180.9 444.2h1.1v1.1h-1.1zM183.5 444.2h1.1v1.1h-1.1zM186.2 444.2h1.1v1.1h-1.1zM178.3 446.8h1.1v1.1h-1.1zM180.9 446.8h1.1v1.1h-1.1zM183.5 446.8h1.1v1.1h-1.1zM186.2 449.4h1.1v1.1h-1.1zM183.5 452h1.1v1.1h-1.1zM188.8 452h1.1v1.1h-1.1zM186.2 454.6h1.1v1.1h-1.1z"/>
<path fill="#7cb428"  d="M170.9 319.7h3v3h-3zM176.1 322.3h3v3h-3zM173.5 330.1h3v3h-3zM152.7 337.9h3v3h-3zM170.9 337.9h3v3h-3zM181.3 337.9h3v3h-3zM181.3 343.1h3v3h-3zM165.7 350.9h3v3h-3zM165.7 353.5h3v3h-3zM163.1 358.7h3v3h-3zM139.7 361.3h3v3h-3zM142.3 369.1h3v3h-3zM160.5 369.1h3v3h-3zM163.1 369.1h3v3h-3zM131.9 371.7h3v3h-3zM144.9 389.9h3v3h-3zM170.9 395.1h3v3h-3zM147.5 400.3h3v3h-3zM157.9 400.3h3v3h-3zM144.9 402.9h3v3h-3zM155.3 402.9h3v3h-3zM147.5 405.5h3v3h-3zM170.9 405.5h3v3h-3zM173.5 405.5h3v3h-3zM176.1 405.5h3v3h-3zM163.1 410.7h3v3h-3zM157.9 413.3h3v3h-3zM178.7 413.3h3v3h-3zM157.9 415.9h3v3h-3zM160.5 415.9h3v3h-3zM163.1 415.9h3v3h-3zM173.5 423.7h3v3h-3zM176.1 423.7h3v3h-3zM173.5 426.3h3v3h-3zM178.7 436.7h3v3h-3zM186.5 436.7h3v3h-3zM178.7 447.1h3v3h-3zM186.5 452.3h3v3h-3z"/>
<path fill="#f08000"  d="M176.5 320.1h2.2v2.2h-2.2zM168.7 322.7h2.2v2.2h-2.2zM171.3 322.7h2.2v2.2h-2.2zM155.7 325.3h2.2v2.2h-2.2zM171.3 325.3h2.2v2.2h-2.2zM153.1 327.9h2.2v2.2h-2.2zM155.7 327.9h2.2v2.2h-2.2zM160.9 327.9h2.2v2.2h-2.2zM184.3 327.9h2.2v2.2h-2.2zM150.5 330.5h2.2v2.2h-2.2zM181.7 330.5h2.2v2.2h-2.2zM186.9 330.5h2.2v2.2h-2.2zM153.1 333.1h2.2v2.2h-2.2zM155.7 333.1h2.2v2.2h-2.2zM158.3 333.1h2.2v2.2h-2.2zM166.1 333.1h2.2v2.2h-2.2zM171.3 333.1h2.2v2.2h-2.2zM179.1 333.1h2.2v2.2h-2.2zM189.5 333.1h2.2v2.2h-2.2zM166.1 335.7h2.2v2.2h-2.2zM173.9 335.7h2.2v2.2h-2.2zM179.1 335.7h2.2v2.2h-2.2zM192.1 335.7h2.2v2.2h-2.2zM155.7 338.3h2.2v2.2h-2.2zM158.3 338.3h2.2v2.2h-2.2zM166.1 338.3h2.2v2.2h-2.2zM168.7 338.3h2.2v2.2h-2.2zM189.5 338.3h2.2v2.2h-2.2zM140.1 340.9h2.2v2.2h-2.2zM158.3 340.9h2.2v2.2h-2.2zM166.1 340.9h2.2v2.2h-2.2zM181.7 340.9h2.2v2.2h-2.2zM137.5 343.5h2.2v2.2h-2.2zM142.7 343.5h2.2v2.2h-2.2zM163.5 343.5h2.2v2.2h-2.2zM168.7 343.5h2.2v2.2h-2.2zM173.9 343.5h2.2v2.2h-2.2zM179.1 343.5h2.2v2.2h-2.2zM137.5 346.1h2.2v2.2h-2.2zM140.1 346.1h2.2v2.2h-2.2zM145.3 346.1h2.2v2.2h-2.2zM171.3 346.1h2.2v2.2h-2.2zM176.5 346.1h2.2v2.2h-2.2zM171.3 348.7h2.2v2.2h-2.2zM176.5 348.7h2.2v2.2h-2.2zM173.9 351.3h2.2v2.2h-2.2zM137.5 353.9h2.2v2.2h-2.2zM168.7 353.9h2.2v2.2h-2.2zM171.3 353.9h2.2v2.2h-2.2zM150.5 356.5h2.2v2.2h-2.2zM158.3 356.5h2.2v2.2h-2.2zM163.5 356.5h2.2v2.2h-2.2zM168.7 356.5h2.2v2.2h-2.2zM145.3 359.1h2.2v2.2h-2.2zM168.7 359.1h2.2v2.2h-2.2zM132.3 364.3h2.2v2.2h-2.2zM160.9 364.3h2.2v2.2h-2.2zM137.5 366.9h2.2v2.2h-2.2zM147.9 366.9h2.2v2.2h-2.2zM145.3 369.5h2.2v2.2h-2.2zM166.1 369.5h2.2v2.2h-2.2zM163.5 372.1h2.2v2.2h-2.2zM163.5 374.7h2.2v2.2h-2.2zM166.1 374.7h2.2v2.2h-2.2zM147.9 377.3h2.2v2.2h-2.2zM150.5 377.3h2.2v2.2h-2.2zM160.9 377.3h2.2v2.2h-2.2zM147.9 379.9h2.2v2.2h-2.2zM150.5 379.9h2.2v2.2h-2.2zM166.1 379.9h2.2v2.2h-2.2zM137.5 382.5h2.2v2.2h-2.2zM145.3 382.5h2.2v2.2h-2.2zM147.9 382.5h2.2v2.2h-2.2zM137.5 385.1h2.2v2.2h-2.2zM160.9 385.1h2.2v2.2h-2.2zM163.5 385.1h2.2v2.2h-2.2zM166.1 385.1h2.2v2.2h-2.2zM137.5 387.7h2.2v2.2h-2.2zM153.1 387.7h2.2v2.2h-2.2zM168.7 387.7h2.2v2.2h-2.2zM137.5 390.3h2.2v2.2h-2.2zM147.9 390.3h2.2v2.2h-2.2zM155.7 390.3h2.2v2.2h-2.2zM160.9 390.3h2.2v2.2h-2.2zM163.5 392.9h2.2v2.2h-2.2zM166.1 392.9h2.2v2.2h-2.2zM150.5 395.5h2.2v2.2h-2.2zM155.7 395.5h2.2v2.2h-2.2zM160.9 395.5h2.2v2.2h-2.2zM142.7 398.1h2.2v2.2h-2.2zM158.3 398.1h2.2v2.2h-2.2zM163.5 398.1h2.2v2.2h-2.2zM168.7 398.1h2.2v2.2h-2.2zM155.7 400.7h2.2v2.2h-2.2zM168.7 400.7h2.2v2.2h-2.2zM176.5 400.7h2.2v2.2h-2.2zM150.5 403.3h2.2v2.2h-2.2zM163.5 403.3h2.2v2.2h-2.2zM166.1 403.3h2.2v2.2h-2.2zM179.1 405.9h2.2v2.2h-2.2zM153.1 408.5h2.2v2.2h-2.2zM155.7 408.5h2.2v2.2h-2.2zM160.9 408.5h2.2v2.2h-2.2zM168.7 408.5h2.2v2.2h-2.2zM171.3 408.5h2.2v2.2h-2.2zM176.5 408.5h2.2v2.2h-2.2zM155.7 411.1h2.2v2.2h-2.2zM168.7 411.1h2.2v2.2h-2.2zM155.7 413.7h2.2v2.2h-2.2zM173.9 413.7h2.2v2.2h-2.2zM176.5 413.7h2.2v2.2h-2.2zM181.7 413.7h2.2v2.2h-2.2zM176.5 416.3h2.2v2.2h-2.2zM158.3 418.9h2.2v2.2h-2.2zM160.9 418.9h2.2v2.2h-2.2zM179.1 418.9h2.2v2.2h-2.2zM181.7 418.9h2.2v2.2h-2.2zM160.9 421.5h2.2v2.2h-2.2zM171.3 421.5h2.2v2.2h-2.2zM160.9 424.1h2.2v2.2h-2.2zM166.1 424.1h2.2v2.2h-2.2zM168.7 424.1h2.2v2.2h-2.2zM171.3 426.7h2.2v2.2h-2.2zM176.5 426.7h2.2v2.2h-2.2zM176.5 429.3h2.2v2.2h-2.2zM168.7 431.9h2.2v2.2h-2.2zM173.9 431.9h2.2v2.2h-2.2zM176.5 431.9h2.2v2.2h-2.2zM184.3 431.9h2.2v2.2h-2.2zM171.3 434.5h2.2v2.2h-2.2zM171.3 437.1h2.2v2.2h-2.2zM181.7 437.1h2.2v2.2h-2.2zM184.3 437.1h2.2v2.2h-2.2zM171.3 439.7h2.2v2.2h-2.2zM184.3 439.7h2.2v2.2h-2.2zM186.9 442.3h2.2v2.2h-2.2zM184.3 447.5h2.2v2.2h-2.2zM186.9 447.5h2.2v2.2h-2.2zM181.7 452.7h2.2v2.2h-2.2z"/>
<path fill="#ff1010"  d="M181.2 324.8h3.2v3.2h-3.2zM147.4 332.6h3.2v3.2h-3.2zM144.8 335.2h3.2v3.2h-3.2zM147.4 335.2h3.2v3.2h-3.2zM150 335.2h3.2v3.2h-3.2zM152.6 335.2h3.2v3.2h-3.2zM155.2 335.2h3.2v3.2h-3.2zM144.8 337.8h3.2v3.2h-3.2zM150 337.8h3.2v3.2h-3.2zM142.2 340.4h3.2v3.2h-3.2zM144.8 340.4h3.2v3.2h-3.2zM147.4 340.4h3.2v3.2h-3.2zM150 340.4h3.2v3.2h-3.2zM152.6 340.4h3.2v3.2h-3.2zM155.2 340.4h3.2v3.2h-3.2zM139.6 343h3.2v3.2h-3.2zM150 343h3.2v3.2h-3.2zM152.6 343h3.2v3.2h-3.2zM152.6 345.6h3.2v3.2h-3.2zM157.8 345.6h3.2v3.2h-3.2zM160.4 345.6h3.2v3.2h-3.2zM163 345.6h3.2v3.2h-3.2zM134.4 348.2h3.2v3.2h-3.2zM139.6 348.2h3.2v3.2h-3.2zM142.2 348.2h3.2v3.2h-3.2zM144.8 348.2h3.2v3.2h-3.2zM147.4 348.2h3.2v3.2h-3.2zM150 348.2h3.2v3.2h-3.2zM152.6 348.2h3.2v3.2h-3.2zM155.2 348.2h3.2v3.2h-3.2zM163 348.2h3.2v3.2h-3.2zM134.4 350.8h3.2v3.2h-3.2zM142.2 350.8h3.2v3.2h-3.2zM144.8 350.8h3.2v3.2h-3.2zM147.4 350.8h3.2v3.2h-3.2zM155.2 350.8h3.2v3.2h-3.2zM157.8 350.8h3.2v3.2h-3.2zM160.4 350.8h3.2v3.2h-3.2zM163 350.8h3.2v3.2h-3.2zM134.4 353.4h3.2v3.2h-3.2zM139.6 353.4h3.2v3.2h-3.2zM142.2 353.4h3.2v3.2h-3.2zM147.4 353.4h3.2v3.2h-3.2zM152.6 353.4h3.2v3.2h-3.2zM155.2 353.4h3.2v3.2h-3.2zM163 353.4h3.2v3.2h-3.2zM137 356h3.2v3.2h-3.2zM144.8 356h3.2v3.2h-3.2zM147.4 356h3.2v3.2h-3.2zM152.6 356h3.2v3.2h-3.2zM160.4 356h3.2v3.2h-3.2zM134.4 358.6h3.2v3.2h-3.2zM137 358.6h3.2v3.2h-3.2zM139.6 358.6h3.2v3.2h-3.2zM142.2 358.6h3.2v3.2h-3.2zM150 358.6h3.2v3.2h-3.2zM152.6 358.6h3.2v3.2h-3.2zM155.2 358.6h3.2v3.2h-3.2zM131.8 361.2h3.2v3.2h-3.2zM137 361.2h3.2v3.2h-3.2zM142.2 361.2h3.2v3.2h-3.2zM144.8 361.2h3.2v3.2h-3.2zM147.4 361.2h3.2v3.2h-3.2zM150 361.2h3.2v3.2h-3.2zM152.6 361.2h3.2v3.2h-3.2zM157.8 361.2h3.2v3.2h-3.2zM134.4 363.8h3.2v3.2h-3.2zM137 363.8h3.2v3.2h-3.2zM139.6 363.8h3.2v3.2h-3.2zM144.8 363.8h3.2v3.2h-3.2zM147.4 363.8h3.2v3.2h-3.2zM150 363.8h3.2v3.2h-3.2zM152.6 363.8h3.2v3.2h-3.2zM155.2 363.8h3.2v3.2h-3.2zM134.4 366.4h3.2v3.2h-3.2zM139.6 366.4h3.2v3.2h-3.2zM142.2 366.4h3.2v3.2h-3.2zM150 366.4h3.2v3.2h-3.2zM152.6 366.4h3.2v3.2h-3.2zM155.2 366.4h3.2v3.2h-3.2zM131.8 369h3.2v3.2h-3.2zM137 369h3.2v3.2h-3.2zM139.6 369h3.2v3.2h-3.2zM150 369h3.2v3.2h-3.2zM152.6 369h3.2v3.2h-3.2zM155.2 369h3.2v3.2h-3.2zM157.8 369h3.2v3.2h-3.2zM134.4 371.6h3.2v3.2h-3.2zM137 371.6h3.2v3.2h-3.2zM139.6 371.6h3.2v3.2h-3.2zM142.2 371.6h3.2v3.2h-3.2zM147.4 371.6h3.2v3.2h-3.2zM155.2 371.6h3.2v3.2h-3.2zM157.8 371.6h3.2v3.2h-3.2zM131.8 374.2h3.2v3.2h-3.2zM134.4 374.2h3.2v3.2h-3.2zM139.6 374.2h3.2v3.2h-3.2zM144.8 374.2h3.2v3.2h-3.2zM147.4 374.2h3.2v3.2h-3.2zM150 374.2h3.2v3.2h-3.2zM155.2 374.2h3.2v3.2h-3.2zM157.8 374.2h3.2v3.2h-3.2zM137 376.8h3.2v3.2h-3.2zM144.8 376.8h3.2v3.2h-3.2zM155.2 376.8h3.2v3.2h-3.2zM157.8 376.8h3.2v3.2h-3.2zM137 379.4h3.2v3.2h-3.2zM144.8 379.4h3.2v3.2h-3.2zM152.6 379.4h3.2v3.2h-3.2zM157.8 379.4h3.2v3.2h-3.2zM139.6 382h3.2v3.2h-3.2zM142.2 382h3.2v3.2h-3.2zM150 382h3.2v3.2h-3.2zM152.6 382h3.2v3.2h-3.2zM157.8 382h3.2v3.2h-3.2zM144.8 384.6h3.2v3.2h-3.2zM152.6 384.6h3.2v3.2h-3.2zM155.2 384.6h3.2v3.2h-3.2zM157.8 384.6h3.2v3.2h-3.2zM142.2 387.2h3.2v3.2h-3.2zM144.8 387.2h3.2v3.2h-3.2zM150 387.2h3.2v3.2h-3.2zM157.8 387.2h3.2v3.2h-3.2zM160.4 387.2h3.2v3.2h-3.2zM163 387.2h3.2v3.2h-3.2zM150 389.8h3.2v3.2h-3.2zM152.6 389.8h3.2v3.2h-3.2zM157.8 389.8h3.2v3.2h-3.2zM163 389.8h3.2v3.2h-3.2zM150 392.4h3.2v3.2h-3.2zM152.6 395h3.2v3.2h-3.2z"/>
<path fill="#ff2000"  d="M181.7 327.9h2.2v2.2h-2.2zM168.7 330.5h2.2v2.2h-2.2zM163.5 333.1h2.2v2.2h-2.2zM168.7 335.7h2.2v2.2h-2.2zM160.9 338.3h2.2v2.2h-2.2zM160.9 340.9h2.2v2.2h-2.2zM166.1 348.7h2.2v2.2h-2.2zM132.3 353.9h2.2v2.2h-2.2zM132.3 359.1h2.2v2.2h-2.2zM160.9 366.9h2.2v2.2h-2.2zM134.9 369.5h2.2v2.2h-2.2zM147.9 369.5h2.2v2.2h-2.2zM160.9 379.9h2.2v2.2h-2.2zM163.5 382.5h2.2v2.2h-2.2zM166.1 382.5h2.2v2.2h-2.2zM142.7 392.9h2.2v2.2h-2.2zM153.1 400.7h2.2v2.2h-2.2zM166.1 408.5h2.2v2.2h-2.2zM168.7 416.3h2.2v2.2h-2.2zM171.3 416.3h2.2v2.2h-2.2zM173.9 418.9h2.2v2.2h-2.2zM171.3 429.3h2.2v2.2h-2.2zM171.3 431.9h2.2v2.2h-2.2zM173.9 434.5h2.2v2.2h-2.2zM176.5 434.5h2.2v2.2h-2.2z"/>
<path fill="none" stroke="#ffdede" stroke-width="1.3" d="M167.2,317.7 C164.8,319.7 157.4,325.8 153,329.7 C148.6,333.6 143.8,337.3 140.5,341 C137.2,344.7 134.9,347.8 133.4,352 C131.9,356.2 131.3,361.3 131.3,366 C131.3,370.7 132.2,375.3 133.4,380 C134.6,384.7 135.2,389 138.4,394.4 C141.6,399.8 148.1,406 152.7,412.6 C157.3,419.2 161.7,427.9 166,434 C170.3,440.1 176.7,446.5 178.8,449"/>
</g>
<g clip-path="url(#cL)"><path fill="#78bcbc"  d="M192.6 342.2h3.2v3.2h-3.2zM184.8 350h3.2v3.2h-3.2zM173.1 353.9h3.2v3.2h-3.2zM196.5 357.8h3.2v3.2h-3.2zM204.3 373.4h3.2v3.2h-3.2zM169.2 385.1h3.2v3.2h-3.2zM200.4 385.1h3.2v3.2h-3.2zM173.1 443.6h3.2v3.2h-3.2z"/>
<path fill="#3a2cc0"  d="M181.5 350.6h2v2h-2zM185.4 354.5h2v2h-2zM189.3 354.5h2v2h-2zM201 354.5h2v2h-2zM173.7 358.4h2v2h-2zM189.3 366.2h2v2h-2zM197.1 366.2h2v2h-2zM189.3 374h2v2h-2zM177.6 377.9h2v2h-2zM173.7 381.8h2v2h-2zM181.5 381.8h2v2h-2zM204.9 393.5h2v2h-2zM177.6 397.4h2v2h-2zM204.9 401.3h2v2h-2zM193.2 424.7h2v2h-2zM197.1 432.5h2v2h-2zM162 448.1h2v2h-2z"/>
<path fill="#f4e800"  d="M192.2 349.6h4v4h-4z"/>
<path fill="#5cb030"  d="M200.4 369.5h3.2v3.2h-3.2zM192.6 381.2h3.2v3.2h-3.2zM184.8 412.4h3.2v3.2h-3.2zM184.8 420.2h3.2v3.2h-3.2z"/></g>
<g clip-path="url(#cRt)">
<path fill="#20208a"  d="M509.1 304h2.3v2.3h-2.3zM489.8 307.6h2.3v2.3h-2.3zM528.8 307.9h2.3v2.3h-2.3zM536.2 319.2h2.3v2.3h-2.3zM540.2 322.9h2.3v2.3h-2.3zM486.2 334.8h2.3v2.3h-2.3zM497.5 338.4h2.3v2.3h-2.3zM505.3 342.5h2.3v2.3h-2.3zM516.8 342.8h2.3v2.3h-2.3zM540.2 342.3h2.3v2.3h-2.3zM582.7 342.6h2.3v2.3h-2.3zM474.7 350.4h2.3v2.3h-2.3zM583.3 350.3h2.3v2.3h-2.3zM490.2 354.3h2.3v2.3h-2.3zM579.4 354.4h2.3v2.3h-2.3zM424 357.8h2.3v2.3h-2.3zM459.1 361.8h2.3v2.3h-2.3zM466.5 365.9h2.3v2.3h-2.3zM567.7 365.7h2.3v2.3h-2.3zM474.7 369.9h2.3v2.3h-2.3zM559.9 369.3h2.3v2.3h-2.3zM478.6 373.4h2.3v2.3h-2.3zM509.4 373.4h2.3v2.3h-2.3zM520.8 373.8h2.3v2.3h-2.3zM548.4 373.7h2.3v2.3h-2.3zM431.7 377.1h2.3v2.3h-2.3zM548 377.1h2.3v2.3h-2.3zM579.3 377.2h2.3v2.3h-2.3zM466.8 384.9h2.3v2.3h-2.3zM505.7 385.3h2.3v2.3h-2.3zM435.8 389.1h2.3v2.3h-2.3zM459 392.7h2.3v2.3h-2.3zM490.2 393h2.3v2.3h-2.3zM532.6 393.1h2.3v2.3h-2.3zM493.8 408.6h2.3v2.3h-2.3zM505.7 412h2.3v2.3h-2.3zM563.7 412.3h2.3v2.3h-2.3zM536.6 416h2.3v2.3h-2.3zM524.8 420.2h2.3v2.3h-2.3zM548.2 420.3h2.3v2.3h-2.3zM579 423.9h2.3v2.3h-2.3zM463 428h2.3v2.3h-2.3zM466.5 427.8h2.3v2.3h-2.3zM482 431.4h2.3v2.3h-2.3zM428.1 435.5h2.3v2.3h-2.3zM559.9 439.6h2.3v2.3h-2.3zM520.9 443.5h2.3v2.3h-2.3zM512.9 447.3h2.3v2.3h-2.3zM528.7 447.3h2.3v2.3h-2.3zM532.6 447.2h2.3v2.3h-2.3zM482.3 459h2.3v2.3h-2.3zM525.1 462.8h2.3v2.3h-2.3zM563.5 462.5h2.3v2.3h-2.3zM560 466.6h2.3v2.3h-2.3zM486.2 470.2h2.3v2.3h-2.3zM532.8 470.4h2.3v2.3h-2.3zM517.1 473.9h2.3v2.3h-2.3zM501.6 477.9h2.3v2.3h-2.3zM517.1 477.9h2.3v2.3h-2.3z"/>
<path fill="#2626a0"  d="M482.5 307.4h2.2v2.2h-2.2zM462.7 342.4h2.2v2.2h-2.2zM567.6 342.5h2.2v2.2h-2.2zM455.3 346.4h2.2v2.2h-2.2zM583.1 358.1h2.2v2.2h-2.2zM474.3 361.7h2.2v2.2h-2.2zM532.4 365.5h2.2v2.2h-2.2zM582.8 369.8h2.2v2.2h-2.2zM486.1 377.5h2.2v2.2h-2.2zM582.9 392.7h2.2v2.2h-2.2zM586.9 393.1h2.2v2.2h-2.2zM536.4 400.9h2.2v2.2h-2.2zM520.8 416.3h2.2v2.2h-2.2zM458.7 424.1h2.2v2.2h-2.2zM528.7 431.5h2.2v2.2h-2.2zM474.7 435.8h2.2v2.2h-2.2zM432 443.4h2.2v2.2h-2.2zM509.2 462.6h2.2v2.2h-2.2z"/>
<path fill="#b0b0f0"  d="M463.5 319.8h1.3v1.3h-1.3zM533 319.5h1.3v1.3h-1.3zM478.9 331.6h1.3v1.3h-1.3zM556.4 335.4h1.3v1.3h-1.3zM560.5 335.2h1.3v1.3h-1.3zM439.9 339.4h1.3v1.3h-1.3zM482.5 339.3h1.3v1.3h-1.3zM432.1 366.2h1.3v1.3h-1.3zM513.6 377.9h1.3v1.3h-1.3zM424.8 385.7h1.3v1.3h-1.3zM529.4 389.5h1.3v1.3h-1.3zM579.5 401.3h1.3v1.3h-1.3zM572.1 405.2h1.3v1.3h-1.3zM556.5 416.5h1.3v1.3h-1.3zM583.4 432.1h1.3v1.3h-1.3zM486.5 443.6h1.3v1.3h-1.3zM451.5 447.5h1.3v1.3h-1.3zM536.8 447.3h1.3v1.3h-1.3zM455.4 451.6h1.3v1.3h-1.3zM502.4 451.3h1.3v1.3h-1.3zM529.5 459.1h1.3v1.3h-1.3zM564.1 459.5h1.3v1.3h-1.3zM548.4 475h1.3v1.3h-1.3z"/>
<path fill="#3a2cc0"  d="M552.3 323.5h1.8v1.8h-1.8zM564 323.1h1.8v1.8h-1.8zM486.2 327.2h1.8v1.8h-1.8zM567.8 331.1h1.8v1.8h-1.8zM502 357.9h1.8v1.8h-1.8zM536.7 366.3h1.8v1.8h-1.8zM521.1 370h1.8v1.8h-1.8zM571.4 369.9h1.8v1.8h-1.8zM517.2 377.9h1.8v1.8h-1.8zM501.7 385.3h1.8v1.8h-1.8zM544.5 393.4h1.8v1.8h-1.8zM587.3 404.9h1.8v1.8h-1.8zM556 420h1.8v1.8h-1.8zM583.1 428.1h1.8v1.8h-1.8zM428.5 432h1.8v1.8h-1.8zM494.3 431.9h1.8v1.8h-1.8zM575.4 435.7h1.8v1.8h-1.8zM505.5 455.1h1.8v1.8h-1.8zM537 466.4h1.8v1.8h-1.8z"/>
<path fill="#6a24b0"  d="M432.3 350.2h2v2h-2zM474.6 354.1h2v2h-2zM540.6 354.2h2v2h-2zM432.1 357.9h2v2h-2zM435.9 365.9h2v2h-2zM451.2 377.3h2v2h-2zM455.2 392.8h2v2h-2zM420.3 396.6h2v2h-2zM443.7 400.5h2v2h-2zM552.1 404.4h2v2h-2zM490.1 427.9h2v2h-2zM587.1 427.7h2v2h-2zM486 431.9h2v2h-2zM462.8 435.6h2v2h-2zM497.9 439.7h2v2h-2zM536.7 458.9h2v2h-2z"/>
<path fill="#80b8b0"  d="M503.3 310.3h3.4v3.4h-3.4zM503.3 327h3.4v3.4h-3.4zM518.3 334.3h3.4v3.4h-3.4zM544.3 368.3h3.4v3.4h-3.4zM518.3 400.3h3.4v3.4h-3.4zM510.8 420.8h3.4v3.4h-3.4zM465.8 452.7h3.4v3.4h-3.4z"/>
<path fill="#90a8a0"  d="M447 441.3h3.4v3.4h-3.4z"/>
<path fill="#58b838"  d="M443.3 349.3h3.4v3.4h-3.4z"/>
<path fill="#70b828"  d="M432 400.3h3.4v3.4h-3.4z"/>
</g>
<circle cx="286" cy="323" r="3.2" fill="#f0f000"/>
<circle cx="368.7" cy="340.5" r="3.0" fill="#f0f000"/>
<circle cx="311" cy="425" r="3.0" fill="#f0f000"/>
<circle cx="252" cy="476" r="3.0" fill="#f0f000"/>
<circle cx="326.5" cy="604" r="2.2" fill="#e8e800"/>
<circle cx="296" cy="607" r="2.0" fill="#d0d000"/>
<circle cx="220" cy="213" r="2.4" fill="#f0f000"/>
<circle cx="252" cy="260.5" r="2.2" fill="#d8d800"/>
<circle cx="350" cy="220.5" r="2.2" fill="#b0c000"/>
<circle cx="226" cy="402" r="3.2" fill="#f0f000"/>
<circle cx="244" cy="395" r="3.0" fill="#f0f000"/>
<path d="M233.9,421.2 L241.4,413.9 L248.2,420.6 L241.9,428 Z" fill="#f080f0"/>
<path d="M266,433 L453.5,556" stroke="#e00000" stroke-width="2.5" fill="none"/>
<path d="M257,427 L272.5,428.5 L263,437.5 Z" fill="#ff0000"/>
<path d="M259,436 L267,436 L268,446 L259,446 Z" fill="#ff0000"/>
<path d="M242.7,86.5 L242.7,111" stroke="#000" stroke-width="3.6"/>
<path d="M242.7,87.5 L242.7,110 M232,99 L254,99" stroke="#fff" stroke-width="1.8"/>
<path d="M242.8,677 L242.8,701" stroke="#000" stroke-width="3.6"/>
<path d="M242.8,678 L242.8,700 M232,688.8 L254,688.8" stroke="#fff" stroke-width="1.8"/>
<path d="M99.7,354.8 L121.6,354.8 M110.6,344.7 L110.6,365" stroke="#fff" stroke-width="1.6"/>
<path d="M509.4,354.5 L530.3,354.5 M519.8,344.7 L519.8,365" stroke="#fff" stroke-width="1.6"/>
<circle cx="519.3" cy="462" r="3.4" fill="#f0f000"/>
</svg></body></html>
